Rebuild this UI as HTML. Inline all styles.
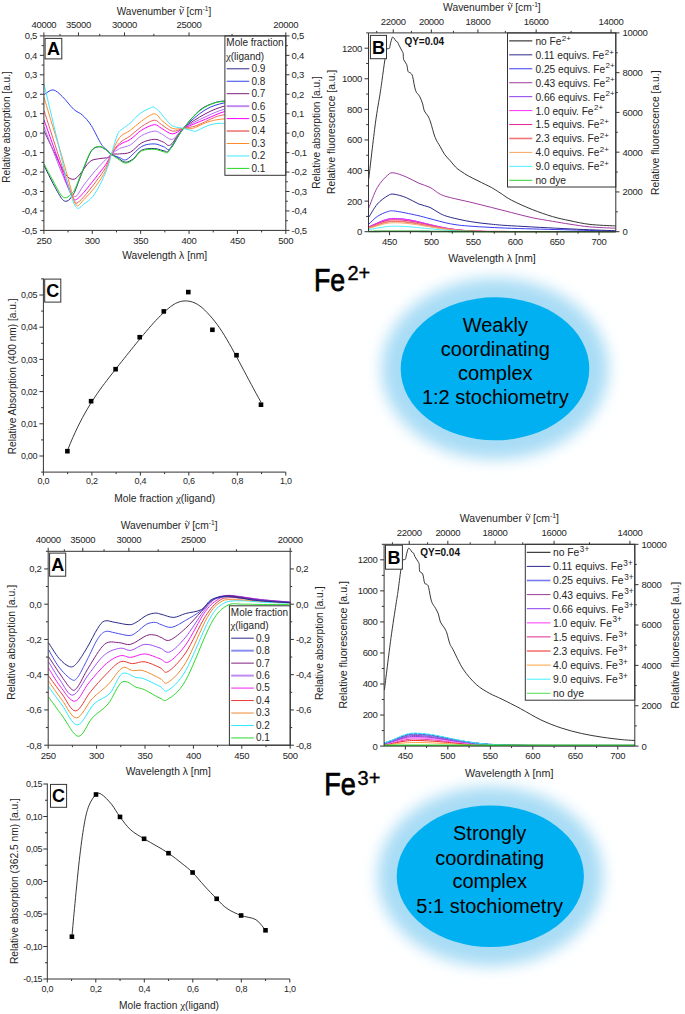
<!DOCTYPE html>
<html><head><meta charset="utf-8"><style>
html,body{margin:0;padding:0;background:#fff;}
svg{display:block;}
</style></head><body>
<svg width="685" height="1014" viewBox="0 0 685 1014" font-family='"Liberation Sans", sans-serif' fill="#262626">
<rect width="685" height="1014" fill="#fff"/>
<clipPath id="cA1"><rect x="43.90" y="35.90" width="241.90" height="194.50"/></clipPath>
<g clip-path="url(#cA1)">
<path d="M44.10,165.40 C44.83,166.92 47.00,171.47 48.50,174.50 C50.00,177.53 51.43,180.43 53.10,183.60 C54.77,186.77 56.93,190.85 58.50,193.50 C60.07,196.15 61.33,198.20 62.50,199.50 C63.67,200.80 64.50,201.17 65.50,201.30 C66.50,201.43 67.50,201.02 68.50,200.30 C69.50,199.58 70.42,198.55 71.50,197.00 C72.58,195.45 73.20,195.17 75.00,191.00 C76.80,186.83 79.62,178.58 82.30,172.00 C84.98,165.42 88.42,155.68 91.10,151.50 C93.78,147.32 96.22,147.38 98.40,146.90 C100.58,146.42 102.03,147.37 104.20,148.60 C106.37,149.83 109.20,152.83 111.40,154.30 C113.60,155.77 115.12,156.08 117.40,157.40 C119.68,158.72 122.43,161.97 125.10,162.20 C127.77,162.43 130.67,160.78 133.40,158.80 C136.13,156.82 138.02,152.02 141.50,150.30 C144.98,148.58 150.35,148.35 154.30,148.50 C158.25,148.65 162.77,150.90 165.20,151.20 C167.63,151.50 165.85,154.10 168.90,150.30 C171.95,146.50 178.32,135.12 183.50,128.40 C188.68,121.68 194.83,114.27 200.00,110.00 C205.17,105.73 210.42,104.30 214.50,102.80 C218.58,101.30 220.25,101.38 224.50,101.00 C228.75,100.62 237.42,100.58 240.00,100.50" fill="none" stroke="#2a2a8a" stroke-width="1.0" stroke-linejoin="round" />
<path d="M44.10,94.60 C45.60,93.82 50.02,89.53 53.10,89.90 C56.18,90.27 59.18,93.58 62.60,96.80 C66.02,100.02 70.32,106.17 73.60,109.20 C76.88,112.23 79.38,112.32 82.30,115.00 C85.22,117.68 87.93,120.43 91.10,125.30 C94.27,130.17 98.62,140.08 101.30,144.20 C103.98,148.32 105.52,148.32 107.20,150.00 C108.88,151.68 109.33,153.03 111.40,154.30 C113.47,155.57 117.02,156.75 119.60,157.60 C122.18,158.45 123.25,161.23 126.90,159.40 C130.55,157.57 136.93,149.18 141.50,146.60 C146.07,144.02 150.65,143.90 154.30,143.90 C157.95,143.90 160.67,145.83 163.40,146.60 C166.13,147.37 167.35,151.53 170.70,148.50 C174.05,145.47 177.78,134.82 183.50,128.40 C189.22,121.98 198.17,114.27 205.00,110.00 C211.83,105.73 218.67,104.13 224.50,102.80 C230.33,101.47 237.42,102.13 240.00,102.00" fill="none" stroke="#3344e6" stroke-width="1.0" stroke-linejoin="round" />
<path d="M44.10,131.10 C45.85,134.75 51.15,145.95 54.60,153.00 C58.05,160.05 61.77,169.02 64.80,173.40 C67.83,177.78 70.37,179.05 72.80,179.30 C75.23,179.55 76.60,177.82 79.40,174.90 C82.20,171.98 86.43,164.48 89.60,161.80 C92.77,159.12 95.23,159.53 98.40,158.80 C101.57,158.07 106.43,158.15 108.60,157.40 C110.77,156.65 109.57,154.88 111.40,154.30 C113.23,153.72 116.42,154.27 119.60,153.90 C122.78,153.53 126.85,153.92 130.50,152.10 C134.15,150.28 137.53,145.13 141.50,143.00 C145.47,140.87 150.65,139.45 154.30,139.30 C157.95,139.15 160.67,141.18 163.40,142.10 C166.13,143.02 167.35,147.08 170.70,144.80 C174.05,142.52 177.78,133.53 183.50,128.40 C189.22,123.27 198.17,117.72 205.00,114.00 C211.83,110.28 218.67,107.60 224.50,106.10 C230.33,104.60 237.42,105.18 240.00,105.00" fill="none" stroke="#7f1f7f" stroke-width="1.0" stroke-linejoin="round" />
<path d="M44.10,127.00 C46.58,133.50 54.68,155.17 59.00,166.00 C63.32,176.83 67.57,187.00 70.00,192.00 C72.43,197.00 72.43,195.42 73.60,196.00 C74.77,196.58 75.30,197.32 77.00,195.50 C78.70,193.68 80.72,189.27 83.80,185.10 C86.88,180.93 91.85,174.75 95.50,170.50 C99.15,166.25 103.05,162.30 105.70,159.60 C108.35,156.90 109.08,156.15 111.40,154.30 C113.72,152.45 116.42,150.08 119.60,148.50 C122.78,146.92 126.85,146.93 130.50,144.80 C134.15,142.67 137.53,137.98 141.50,135.70 C145.47,133.42 150.95,131.40 154.30,131.10 C157.65,130.80 158.57,132.53 161.60,133.90 C164.63,135.27 168.85,140.22 172.50,139.30 C176.15,138.38 178.08,132.12 183.50,128.40 C188.92,124.68 198.17,120.20 205.00,117.00 C211.83,113.80 218.67,110.70 224.50,109.20 C230.33,107.70 237.42,108.20 240.00,108.00" fill="none" stroke="#b070f0" stroke-width="1.0" stroke-linejoin="round" />
<path d="M44.10,120.10 C46.58,127.08 54.68,150.02 59.00,162.00 C63.32,173.98 67.57,185.92 70.00,192.00 C72.43,198.08 72.52,197.25 73.60,198.50 C74.68,199.75 74.80,200.52 76.50,199.50 C78.20,198.48 80.63,196.02 83.80,192.40 C86.97,188.78 91.85,182.42 95.50,177.80 C99.15,173.18 103.05,168.62 105.70,164.70 C108.35,160.78 109.08,157.62 111.40,154.30 C113.72,150.98 116.42,147.30 119.60,144.80 C122.78,142.30 126.85,141.73 130.50,139.30 C134.15,136.87 137.53,132.63 141.50,130.20 C145.47,127.77 150.95,125.00 154.30,124.70 C157.65,124.40 158.57,126.87 161.60,128.40 C164.63,129.93 168.85,133.90 172.50,133.90 C176.15,133.90 178.02,130.83 183.50,128.40 C188.98,125.97 198.57,122.10 205.40,119.30 C212.23,116.50 218.73,113.15 224.50,111.60 C230.27,110.05 237.42,110.27 240.00,110.00" fill="none" stroke="#ff00ff" stroke-width="1.0" stroke-linejoin="round" />
<path d="M44.10,110.70 C46.58,118.42 54.68,143.78 59.00,157.00 C63.32,170.22 67.45,182.67 70.00,190.00 C72.55,197.33 73.13,198.83 74.30,201.00 C75.47,203.17 75.42,203.70 77.00,203.00 C78.58,202.30 80.72,200.27 83.80,196.80 C86.88,193.33 91.85,187.07 95.50,182.20 C99.15,177.33 103.05,172.25 105.70,167.60 C108.35,162.95 109.08,158.40 111.40,154.30 C113.72,150.20 116.42,146.10 119.60,143.00 C122.78,139.90 126.85,138.43 130.50,135.70 C134.15,132.97 137.53,129.18 141.50,126.60 C145.47,124.02 150.95,120.52 154.30,120.20 C157.65,119.88 158.57,122.88 161.60,124.70 C164.63,126.52 168.85,130.48 172.50,131.10 C176.15,131.72 179.55,129.30 183.50,128.40 C187.45,127.50 191.03,127.53 196.20,125.70 C201.37,123.87 209.78,119.23 214.50,117.40 C219.22,115.57 220.25,115.43 224.50,114.70 C228.75,113.97 237.42,113.28 240.00,113.00" fill="none" stroke="#ea5f5f" stroke-width="1.0" stroke-linejoin="round" />
<path d="M44.10,97.50 C45.42,101.92 49.35,115.25 52.00,124.00 C54.65,132.75 57.33,141.00 60.00,150.00 C62.67,159.00 65.92,170.50 68.00,178.00 C70.08,185.50 71.20,190.58 72.50,195.00 C73.80,199.42 74.80,202.75 75.80,204.50 C76.80,206.25 77.17,206.30 78.50,205.50 C79.83,204.70 80.97,202.85 83.80,199.70 C86.63,196.55 91.85,191.47 95.50,186.60 C99.15,181.73 103.05,175.88 105.70,170.50 C108.35,165.12 109.08,159.80 111.40,154.30 C113.72,148.80 116.42,141.52 119.60,137.50 C122.78,133.48 126.85,132.93 130.50,130.20 C134.15,127.47 137.53,123.83 141.50,121.10 C145.47,118.37 150.95,113.95 154.30,113.80 C157.65,113.65 158.57,117.77 161.60,120.20 C164.63,122.63 168.85,127.03 172.50,128.40 C176.15,129.77 180.15,128.40 183.50,128.40 C186.85,128.40 188.95,129.32 192.60,128.40 C196.25,127.48 201.75,124.27 205.40,122.90 C209.05,121.53 211.32,120.87 214.50,120.20 C217.68,119.53 220.25,119.27 224.50,118.90 C228.75,118.53 237.42,118.15 240.00,118.00" fill="none" stroke="#ff8c2a" stroke-width="1.0" stroke-linejoin="round" />
<path d="M44.10,84.40 C45.37,89.75 48.98,105.07 51.70,116.50 C54.42,127.93 57.48,140.83 60.40,153.00 C63.32,165.17 66.52,180.38 69.20,189.50 C71.88,198.62 74.07,205.27 76.50,207.70 C78.93,210.13 81.12,205.92 83.80,204.10 C86.48,202.28 89.68,200.45 92.60,196.80 C95.52,193.15 98.63,187.55 101.30,182.20 C103.97,176.85 106.92,169.35 108.60,164.70 C110.28,160.05 109.87,159.43 111.40,154.30 C112.93,149.17 115.83,138.22 117.80,133.90 C119.77,129.58 121.08,130.23 123.20,128.40 C125.32,126.57 127.75,125.33 130.50,122.90 C133.25,120.47 136.20,116.38 139.70,113.80 C143.20,111.22 148.92,108.37 151.50,107.40 C154.08,106.43 153.83,107.23 155.20,108.00 C156.57,108.77 157.42,109.52 159.70,112.00 C161.98,114.48 166.47,120.47 168.90,122.90 C171.33,125.33 171.87,125.68 174.30,126.60 C176.73,127.52 180.75,127.80 183.50,128.40 C186.25,129.00 188.68,129.75 190.80,130.20 C192.92,130.65 193.77,131.70 196.20,131.10 C198.63,130.50 202.35,127.82 205.40,126.60 C208.45,125.38 211.32,124.35 214.50,123.80 C217.68,123.25 220.25,123.43 224.50,123.30 C228.75,123.17 237.42,123.05 240.00,123.00" fill="none" stroke="#40e8ff" stroke-width="1.0" stroke-linejoin="round" />
<path d="M44.10,164.00 C44.83,165.42 47.00,169.67 48.50,172.50 C50.00,175.33 51.43,177.92 53.10,181.00 C54.77,184.08 57.02,188.50 58.50,191.00 C59.98,193.50 60.92,194.87 62.00,196.00 C63.08,197.13 64.00,197.63 65.00,197.80 C66.00,197.97 66.92,197.72 68.00,197.00 C69.08,196.28 70.33,194.83 71.50,193.50 C72.67,192.17 73.20,192.75 75.00,189.00 C76.80,185.25 79.62,177.33 82.30,171.00 C84.98,164.67 88.42,155.08 91.10,151.00 C93.78,146.92 96.22,146.90 98.40,146.50 C100.58,146.10 102.03,147.30 104.20,148.60 C106.37,149.90 109.20,152.65 111.40,154.30 C113.60,155.95 115.12,157.03 117.40,158.50 C119.68,159.97 122.43,162.93 125.10,163.10 C127.77,163.27 130.67,161.52 133.40,159.50 C136.13,157.48 138.02,152.70 141.50,151.00 C144.98,149.30 150.35,149.10 154.30,149.30 C158.25,149.50 162.77,151.92 165.20,152.20 C167.63,152.48 165.85,154.97 168.90,151.00 C171.95,147.03 178.32,135.15 183.50,128.40 C188.68,121.65 194.83,114.73 200.00,110.50 C205.17,106.27 210.42,104.50 214.50,103.00 C218.58,101.50 220.25,101.83 224.50,101.50 C228.75,101.17 237.42,101.08 240.00,101.00" fill="none" stroke="#22d822" stroke-width="1.0" stroke-linejoin="round" />
</g>
<rect x="224.90" y="35.90" width="60.90" height="139.40" fill="#fff" stroke="#333" stroke-width="1"/>
<text x="226.30" y="45.90" font-size="10" >Mole fraction</text>
<text x="225.90" y="60.00" font-size="10"><tspan font-family="Liberation Serif" font-size="11">χ</tspan>(ligand)</text>
<line x1="226.70" y1="68.80" x2="249.30" y2="68.80" stroke="#2a2a8a" stroke-width="1.0" />
<text x="251.50" y="72.20" font-size="10" >0.9</text>
<line x1="226.70" y1="81.25" x2="249.30" y2="81.25" stroke="#3344e6" stroke-width="1.0" />
<text x="251.50" y="84.65" font-size="10" >0.8</text>
<line x1="226.70" y1="93.70" x2="249.30" y2="93.70" stroke="#7f1f7f" stroke-width="1.0" />
<text x="251.50" y="97.10" font-size="10" >0.7</text>
<line x1="226.70" y1="106.15" x2="249.30" y2="106.15" stroke="#c08cf2" stroke-width="2.0" />
<text x="251.50" y="109.55" font-size="10" >0.6</text>
<line x1="226.70" y1="118.60" x2="249.30" y2="118.60" stroke="#ff00ff" stroke-width="1.0" />
<text x="251.50" y="122.00" font-size="10" >0.5</text>
<line x1="226.70" y1="131.05" x2="249.30" y2="131.05" stroke="#f29090" stroke-width="2.0" />
<text x="251.50" y="134.45" font-size="10" >0.4</text>
<line x1="226.70" y1="143.50" x2="249.30" y2="143.50" stroke="#ff8c2a" stroke-width="1.0" />
<text x="251.50" y="146.90" font-size="10" >0.3</text>
<line x1="226.70" y1="155.95" x2="249.30" y2="155.95" stroke="#40e8ff" stroke-width="1.0" />
<text x="251.50" y="159.35" font-size="10" >0.2</text>
<line x1="226.70" y1="168.40" x2="249.30" y2="168.40" stroke="#22d822" stroke-width="1.0" />
<text x="251.50" y="171.80" font-size="10" >0.1</text>
<line x1="43.90" y1="230.40" x2="285.80" y2="230.40" stroke="#333" stroke-width="1" />
<line x1="43.90" y1="35.90" x2="285.80" y2="35.90" stroke="#333" stroke-width="1" />
<line x1="43.90" y1="35.90" x2="43.90" y2="230.40" stroke="#333" stroke-width="1" />
<line x1="285.80" y1="35.90" x2="285.80" y2="230.40" stroke="#333" stroke-width="1" />
<line x1="43.90" y1="230.40" x2="43.90" y2="233.90" stroke="#333" stroke-width="1" />
<line x1="92.28" y1="230.40" x2="92.28" y2="233.90" stroke="#333" stroke-width="1" />
<line x1="140.66" y1="230.40" x2="140.66" y2="233.90" stroke="#333" stroke-width="1" />
<line x1="189.04" y1="230.40" x2="189.04" y2="233.90" stroke="#333" stroke-width="1" />
<line x1="237.42" y1="230.40" x2="237.42" y2="233.90" stroke="#333" stroke-width="1" />
<line x1="285.80" y1="230.40" x2="285.80" y2="233.90" stroke="#333" stroke-width="1" />
<line x1="68.09" y1="230.40" x2="68.09" y2="232.40" stroke="#333" stroke-width="1" />
<line x1="116.47" y1="230.40" x2="116.47" y2="232.40" stroke="#333" stroke-width="1" />
<line x1="164.85" y1="230.40" x2="164.85" y2="232.40" stroke="#333" stroke-width="1" />
<line x1="213.23" y1="230.40" x2="213.23" y2="232.40" stroke="#333" stroke-width="1" />
<line x1="261.61" y1="230.40" x2="261.61" y2="232.40" stroke="#333" stroke-width="1" />
<text x="43.90" y="243.50" font-size="9.5" text-anchor="middle" letter-spacing="-0.3">250</text>
<text x="92.28" y="243.50" font-size="9.5" text-anchor="middle" letter-spacing="-0.3">300</text>
<text x="140.66" y="243.50" font-size="9.5" text-anchor="middle" letter-spacing="-0.3">350</text>
<text x="189.04" y="243.50" font-size="9.5" text-anchor="middle" letter-spacing="-0.3">400</text>
<text x="237.42" y="243.50" font-size="9.5" text-anchor="middle" letter-spacing="-0.3">450</text>
<text x="285.80" y="243.50" font-size="9.5" text-anchor="middle" letter-spacing="-0.3">500</text>
<line x1="43.90" y1="35.90" x2="43.90" y2="32.40" stroke="#333" stroke-width="1" />
<text x="43.90" y="27.80" font-size="9.5" text-anchor="middle" letter-spacing="-0.3">40000</text>
<line x1="78.46" y1="35.90" x2="78.46" y2="32.40" stroke="#333" stroke-width="1" />
<text x="78.46" y="27.80" font-size="9.5" text-anchor="middle" letter-spacing="-0.3">35000</text>
<line x1="124.53" y1="35.90" x2="124.53" y2="32.40" stroke="#333" stroke-width="1" />
<text x="124.53" y="27.80" font-size="9.5" text-anchor="middle" letter-spacing="-0.3">30000</text>
<line x1="189.04" y1="35.90" x2="189.04" y2="32.40" stroke="#333" stroke-width="1" />
<text x="189.04" y="27.80" font-size="9.5" text-anchor="middle" letter-spacing="-0.3">25000</text>
<line x1="285.80" y1="35.90" x2="285.80" y2="32.40" stroke="#333" stroke-width="1" />
<text x="285.80" y="27.80" font-size="9.5" text-anchor="middle" letter-spacing="-0.3">20000</text>
<line x1="60.03" y1="35.90" x2="60.03" y2="33.90" stroke="#333" stroke-width="1" />
<line x1="99.72" y1="35.90" x2="99.72" y2="33.90" stroke="#333" stroke-width="1" />
<line x1="153.85" y1="35.90" x2="153.85" y2="33.90" stroke="#333" stroke-width="1" />
<line x1="232.04" y1="35.90" x2="232.04" y2="33.90" stroke="#333" stroke-width="1" />
<line x1="39.90" y1="230.40" x2="43.90" y2="230.40" stroke="#333" stroke-width="1" />
<line x1="39.90" y1="210.95" x2="43.90" y2="210.95" stroke="#333" stroke-width="1" />
<line x1="39.90" y1="191.50" x2="43.90" y2="191.50" stroke="#333" stroke-width="1" />
<line x1="39.90" y1="172.05" x2="43.90" y2="172.05" stroke="#333" stroke-width="1" />
<line x1="39.90" y1="152.60" x2="43.90" y2="152.60" stroke="#333" stroke-width="1" />
<line x1="39.90" y1="133.15" x2="43.90" y2="133.15" stroke="#333" stroke-width="1" />
<line x1="39.90" y1="113.70" x2="43.90" y2="113.70" stroke="#333" stroke-width="1" />
<line x1="39.90" y1="94.25" x2="43.90" y2="94.25" stroke="#333" stroke-width="1" />
<line x1="39.90" y1="74.80" x2="43.90" y2="74.80" stroke="#333" stroke-width="1" />
<line x1="39.90" y1="55.35" x2="43.90" y2="55.35" stroke="#333" stroke-width="1" />
<line x1="39.90" y1="35.90" x2="43.90" y2="35.90" stroke="#333" stroke-width="1" />
<line x1="41.60" y1="220.68" x2="43.90" y2="220.68" stroke="#333" stroke-width="1" />
<line x1="41.60" y1="201.22" x2="43.90" y2="201.22" stroke="#333" stroke-width="1" />
<line x1="41.60" y1="181.78" x2="43.90" y2="181.78" stroke="#333" stroke-width="1" />
<line x1="41.60" y1="162.33" x2="43.90" y2="162.33" stroke="#333" stroke-width="1" />
<line x1="41.60" y1="142.88" x2="43.90" y2="142.88" stroke="#333" stroke-width="1" />
<line x1="41.60" y1="123.42" x2="43.90" y2="123.42" stroke="#333" stroke-width="1" />
<line x1="41.60" y1="103.97" x2="43.90" y2="103.97" stroke="#333" stroke-width="1" />
<line x1="41.60" y1="84.53" x2="43.90" y2="84.53" stroke="#333" stroke-width="1" />
<line x1="41.60" y1="65.08" x2="43.90" y2="65.08" stroke="#333" stroke-width="1" />
<line x1="41.60" y1="45.63" x2="43.90" y2="45.63" stroke="#333" stroke-width="1" />
<text x="37.00" y="233.80" font-size="9.5" text-anchor="end" letter-spacing="-0.3">-0,5</text>
<text x="37.00" y="214.35" font-size="9.5" text-anchor="end" letter-spacing="-0.3">-0,4</text>
<text x="37.00" y="194.90" font-size="9.5" text-anchor="end" letter-spacing="-0.3">-0,3</text>
<text x="37.00" y="175.45" font-size="9.5" text-anchor="end" letter-spacing="-0.3">-0,2</text>
<text x="37.00" y="156.00" font-size="9.5" text-anchor="end" letter-spacing="-0.3">-0,1</text>
<text x="37.00" y="136.55" font-size="9.5" text-anchor="end" letter-spacing="-0.3">0,0</text>
<text x="37.00" y="117.10" font-size="9.5" text-anchor="end" letter-spacing="-0.3">0,1</text>
<text x="37.00" y="97.65" font-size="9.5" text-anchor="end" letter-spacing="-0.3">0,2</text>
<text x="37.00" y="78.20" font-size="9.5" text-anchor="end" letter-spacing="-0.3">0,3</text>
<text x="37.00" y="58.75" font-size="9.5" text-anchor="end" letter-spacing="-0.3">0,4</text>
<text x="37.00" y="39.30" font-size="9.5" text-anchor="end" letter-spacing="-0.3">0,5</text>
<line x1="285.80" y1="230.40" x2="289.50" y2="230.40" stroke="#333" stroke-width="1" />
<line x1="285.80" y1="210.95" x2="289.50" y2="210.95" stroke="#333" stroke-width="1" />
<line x1="285.80" y1="191.50" x2="289.50" y2="191.50" stroke="#333" stroke-width="1" />
<line x1="285.80" y1="172.05" x2="289.50" y2="172.05" stroke="#333" stroke-width="1" />
<line x1="285.80" y1="152.60" x2="289.50" y2="152.60" stroke="#333" stroke-width="1" />
<line x1="285.80" y1="133.15" x2="289.50" y2="133.15" stroke="#333" stroke-width="1" />
<line x1="285.80" y1="113.70" x2="289.50" y2="113.70" stroke="#333" stroke-width="1" />
<line x1="285.80" y1="94.25" x2="289.50" y2="94.25" stroke="#333" stroke-width="1" />
<line x1="285.80" y1="74.80" x2="289.50" y2="74.80" stroke="#333" stroke-width="1" />
<line x1="285.80" y1="55.35" x2="289.50" y2="55.35" stroke="#333" stroke-width="1" />
<line x1="285.80" y1="35.90" x2="289.50" y2="35.90" stroke="#333" stroke-width="1" />
<line x1="285.80" y1="220.68" x2="287.80" y2="220.68" stroke="#333" stroke-width="1" />
<line x1="285.80" y1="201.22" x2="287.80" y2="201.22" stroke="#333" stroke-width="1" />
<line x1="285.80" y1="181.78" x2="287.80" y2="181.78" stroke="#333" stroke-width="1" />
<line x1="285.80" y1="162.33" x2="287.80" y2="162.33" stroke="#333" stroke-width="1" />
<line x1="285.80" y1="142.88" x2="287.80" y2="142.88" stroke="#333" stroke-width="1" />
<line x1="285.80" y1="123.42" x2="287.80" y2="123.42" stroke="#333" stroke-width="1" />
<line x1="285.80" y1="103.97" x2="287.80" y2="103.97" stroke="#333" stroke-width="1" />
<line x1="285.80" y1="84.53" x2="287.80" y2="84.53" stroke="#333" stroke-width="1" />
<line x1="285.80" y1="65.08" x2="287.80" y2="65.08" stroke="#333" stroke-width="1" />
<line x1="285.80" y1="45.63" x2="287.80" y2="45.63" stroke="#333" stroke-width="1" />
<text x="291.60" y="233.80" font-size="9.5" letter-spacing="-0.3">-0,5</text>
<text x="291.60" y="214.35" font-size="9.5" letter-spacing="-0.3">-0,4</text>
<text x="291.60" y="194.90" font-size="9.5" letter-spacing="-0.3">-0,3</text>
<text x="291.60" y="175.45" font-size="9.5" letter-spacing="-0.3">-0,2</text>
<text x="291.60" y="156.00" font-size="9.5" letter-spacing="-0.3">-0,1</text>
<text x="291.60" y="136.55" font-size="9.5" letter-spacing="-0.3">0,0</text>
<text x="291.60" y="117.10" font-size="9.5" letter-spacing="-0.3">0,1</text>
<text x="291.60" y="97.65" font-size="9.5" letter-spacing="-0.3">0,2</text>
<text x="291.60" y="78.20" font-size="9.5" letter-spacing="-0.3">0,3</text>
<text x="291.60" y="58.75" font-size="9.5" letter-spacing="-0.3">0,4</text>
<text x="291.60" y="39.30" font-size="9.5" letter-spacing="-0.3">0,5</text>
<text x="116.79" y="14.50" font-size="10.0">Wavenumber </text>
<text x="178.66" y="14.50" font-size="11.50" font-family="Liberation Serif" font-style="italic">ν</text>
<path d="M179.91,7.10 q1.1,-1.4 2.2,0 t2.2,0" fill="none" stroke="#262626" stroke-width="0.75"/>
<text x="183.77" y="14.50" font-size="10.0" style="white-space:pre"> [cm<tspan font-size="6.5" dy="-3.8">-1</tspan><tspan dy="3.8">]</tspan></text>
<text x="164.70" y="258.50" font-size="10.2" text-anchor="middle" textLength="85.0" lengthAdjust="spacingAndGlyphs">Wavelength λ [nm]</text>
<text x="10.30" y="127.00" font-size="10.0" text-anchor="middle" textLength="111.5" lengthAdjust="spacingAndGlyphs" transform="rotate(-90 10.30 127.00)">Relative absorption [a.u.]</text>
<text x="320.10" y="132.40" font-size="10.0" text-anchor="middle" textLength="112.7" lengthAdjust="spacingAndGlyphs" transform="rotate(-90 320.10 132.40)">Relative absorption [a.u.]</text>
<rect x="45.10" y="38.40" width="16.70" height="20.50" fill="#fff" stroke="#333" stroke-width="1"/>
<text x="53.45" y="55.13" font-size="18" text-anchor="middle" font-weight="bold" fill="#000" >A</text>
<clipPath id="cB1"><rect x="368.50" y="32.90" width="247.30" height="199.80"/></clipPath>
<g clip-path="url(#cB1)">
<polyline points="368.50,226.81 370.58,225.97 372.66,225.07 374.73,224.15 376.81,223.20 378.89,222.27 380.97,221.39 383.05,220.57 385.13,219.84 387.20,219.25 389.28,218.80 391.36,218.51 393.44,218.40 395.52,218.42 397.59,218.50 399.67,218.63 401.75,218.80 403.83,219.03 405.91,219.31 407.98,219.63 410.06,219.98 412.14,220.38 414.22,220.80 416.30,221.25 418.38,221.72 420.45,222.21 422.53,222.72 424.61,223.23 426.69,223.74 428.77,224.25 430.84,224.76 432.92,225.26 435.00,225.75 437.08,226.22 439.16,226.68 441.24,227.12 443.31,227.53 445.39,227.93 447.47,228.30 449.55,228.64 451.63,228.96 453.70,229.26 455.78,229.54 457.86,229.79 459.94,230.02 462.02,230.22 464.09,230.41 466.17,230.58 468.25,230.73 470.33,230.86 472.41,230.98 474.49,231.08 476.56,231.18 478.64,231.26 480.72,231.32 482.80,231.38 484.88,231.43 486.95,231.48 489.03,231.52 491.11,231.55 493.19,231.57 495.27,231.60 497.35,231.62 499.42,231.63 501.50,231.64 503.58,231.65 505.66,231.66 507.74,231.67 509.81,231.68 511.89,231.68 513.97,231.69 516.05,231.69 518.13,231.69 520.21,231.69 522.28,231.69 524.36,231.70 526.44,231.70 528.52,231.70 530.60,231.70 532.67,231.70 534.75,231.70 536.83,231.70 538.91,231.70 540.99,231.70 543.06,231.70 545.14,231.70 547.22,231.70 549.30,231.70 551.38,231.70 553.46,231.70 555.53,231.70 557.61,231.70 559.69,231.70 561.77,231.70 563.85,231.70 565.92,231.70 568.00,231.70 570.08,231.70 572.16,231.70 574.24,231.70 576.32,231.70 578.39,231.70 580.47,231.70 582.55,231.70 584.63,231.70 586.71,231.70 588.78,231.70 590.86,231.70 592.94,231.70 595.02,231.70 597.10,231.70 599.17,231.70 601.25,231.70 603.33,231.70 605.41,231.70 607.49,231.70 609.57,231.70 611.64,231.70 613.72,231.70 615.80,231.70" fill="none" stroke="#8a3cf0" stroke-width="1.0" stroke-linejoin="round" />
<polyline points="368.50,226.92 370.58,226.10 372.66,225.22 374.73,224.32 376.81,223.40 378.89,222.49 380.97,221.62 383.05,220.82 385.13,220.11 387.20,219.53 389.28,219.09 391.36,218.81 393.44,218.70 395.52,218.72 397.59,218.79 399.67,218.92 401.75,219.10 403.83,219.32 405.91,219.59 407.98,219.90 410.06,220.25 412.14,220.63 414.22,221.05 416.30,221.49 418.38,221.95 420.45,222.43 422.53,222.92 424.61,223.42 426.69,223.92 428.77,224.42 430.84,224.92 432.92,225.41 435.00,225.88 437.08,226.35 439.16,226.79 441.24,227.22 443.31,227.63 445.39,228.01 447.47,228.37 449.55,228.71 451.63,229.03 453.70,229.32 455.78,229.59 457.86,229.83 459.94,230.05 462.02,230.26 464.09,230.44 466.17,230.60 468.25,230.75 470.33,230.88 472.41,231.00 474.49,231.10 476.56,231.19 478.64,231.27 480.72,231.33 482.80,231.39 484.88,231.44 486.95,231.48 489.03,231.52 491.11,231.55 493.19,231.58 495.27,231.60 497.35,231.62 499.42,231.63 501.50,231.65 503.58,231.66 505.66,231.66 507.74,231.67 509.81,231.68 511.89,231.68 513.97,231.69 516.05,231.69 518.13,231.69 520.21,231.69 522.28,231.69 524.36,231.70 526.44,231.70 528.52,231.70 530.60,231.70 532.67,231.70 534.75,231.70 536.83,231.70 538.91,231.70 540.99,231.70 543.06,231.70 545.14,231.70 547.22,231.70 549.30,231.70 551.38,231.70 553.46,231.70 555.53,231.70 557.61,231.70 559.69,231.70 561.77,231.70 563.85,231.70 565.92,231.70 568.00,231.70 570.08,231.70 572.16,231.70 574.24,231.70 576.32,231.70 578.39,231.70 580.47,231.70 582.55,231.70 584.63,231.70 586.71,231.70 588.78,231.70 590.86,231.70 592.94,231.70 595.02,231.70 597.10,231.70 599.17,231.70 601.25,231.70 603.33,231.70 605.41,231.70 607.49,231.70 609.57,231.70 611.64,231.70 613.72,231.70 615.80,231.70" fill="none" stroke="#ff30ff" stroke-width="1.0" stroke-linejoin="round" />
<polyline points="368.50,227.29 370.58,226.53 372.66,225.72 374.73,224.88 376.81,224.03 378.89,223.20 380.97,222.39 383.05,221.65 385.13,221.00 387.20,220.46 389.28,220.06 391.36,219.80 393.44,219.70 395.52,219.72 397.59,219.79 399.67,219.90 401.75,220.06 403.83,220.27 405.91,220.52 407.98,220.81 410.06,221.13 412.14,221.48 414.22,221.87 416.30,222.27 418.38,222.70 420.45,223.14 422.53,223.59 424.61,224.06 426.69,224.52 428.77,224.98 430.84,225.44 432.92,225.89 435.00,226.33 437.08,226.76 439.16,227.17 441.24,227.56 443.31,227.94 445.39,228.29 447.47,228.63 449.55,228.94 451.63,229.23 453.70,229.50 455.78,229.75 457.86,229.97 459.94,230.18 462.02,230.37 464.09,230.54 466.17,230.69 468.25,230.82 470.33,230.94 472.41,231.05 474.49,231.15 476.56,231.23 478.64,231.30 480.72,231.36 482.80,231.41 484.88,231.46 486.95,231.50 489.03,231.53 491.11,231.56 493.19,231.59 495.27,231.61 497.35,231.62 499.42,231.64 501.50,231.65 503.58,231.66 505.66,231.67 507.74,231.67 509.81,231.68 511.89,231.68 513.97,231.69 516.05,231.69 518.13,231.69 520.21,231.69 522.28,231.70 524.36,231.70 526.44,231.70 528.52,231.70 530.60,231.70 532.67,231.70 534.75,231.70 536.83,231.70 538.91,231.70 540.99,231.70 543.06,231.70 545.14,231.70 547.22,231.70 549.30,231.70 551.38,231.70 553.46,231.70 555.53,231.70 557.61,231.70 559.69,231.70 561.77,231.70 563.85,231.70 565.92,231.70 568.00,231.70 570.08,231.70 572.16,231.70 574.24,231.70 576.32,231.70 578.39,231.70 580.47,231.70 582.55,231.70 584.63,231.70 586.71,231.70 588.78,231.70 590.86,231.70 592.94,231.70 595.02,231.70 597.10,231.70 599.17,231.70 601.25,231.70 603.33,231.70 605.41,231.70 607.49,231.70 609.57,231.70 611.64,231.70 613.72,231.70 615.80,231.70" fill="none" stroke="#e02890" stroke-width="1.0" stroke-linejoin="round" />
<polyline points="368.50,227.84 370.58,227.17 372.66,226.47 374.73,225.74 376.81,224.99 378.89,224.26 380.97,223.56 383.05,222.91 385.13,222.34 387.20,221.87 389.28,221.51 391.36,221.29 393.44,221.20 395.52,221.22 397.59,221.28 399.67,221.38 401.75,221.52 403.83,221.70 405.91,221.92 407.98,222.17 410.06,222.45 412.14,222.76 414.22,223.10 416.30,223.45 418.38,223.82 420.45,224.21 422.53,224.61 424.61,225.01 426.69,225.42 428.77,225.82 430.84,226.22 432.92,226.62 435.00,227.00 437.08,227.38 439.16,227.74 441.24,228.08 443.31,228.41 445.39,228.72 447.47,229.01 449.55,229.29 451.63,229.54 453.70,229.78 455.78,229.99 457.86,230.19 459.94,230.37 462.02,230.54 464.09,230.68 466.17,230.82 468.25,230.93 470.33,231.04 472.41,231.13 474.49,231.21 476.56,231.29 478.64,231.35 480.72,231.40 482.80,231.45 484.88,231.49 486.95,231.53 489.03,231.55 491.11,231.58 493.19,231.60 495.27,231.62 497.35,231.63 499.42,231.65 501.50,231.66 503.58,231.66 505.66,231.67 507.74,231.68 509.81,231.68 511.89,231.69 513.97,231.69 516.05,231.69 518.13,231.69 520.21,231.69 522.28,231.70 524.36,231.70 526.44,231.70 528.52,231.70 530.60,231.70 532.67,231.70 534.75,231.70 536.83,231.70 538.91,231.70 540.99,231.70 543.06,231.70 545.14,231.70 547.22,231.70 549.30,231.70 551.38,231.70 553.46,231.70 555.53,231.70 557.61,231.70 559.69,231.70 561.77,231.70 563.85,231.70 565.92,231.70 568.00,231.70 570.08,231.70 572.16,231.70 574.24,231.70 576.32,231.70 578.39,231.70 580.47,231.70 582.55,231.70 584.63,231.70 586.71,231.70 588.78,231.70 590.86,231.70 592.94,231.70 595.02,231.70 597.10,231.70 599.17,231.70 601.25,231.70 603.33,231.70 605.41,231.70 607.49,231.70 609.57,231.70 611.64,231.70 613.72,231.70 615.80,231.70" fill="none" stroke="#f07878" stroke-width="1.6" stroke-linejoin="round" />
<polyline points="368.50,228.39 370.58,227.82 372.66,227.22 374.73,226.59 376.81,225.95 378.89,225.32 380.97,224.72 383.05,224.17 385.13,223.68 387.20,223.27 389.28,222.97 391.36,222.77 393.44,222.70 395.52,222.71 397.59,222.77 399.67,222.85 401.75,222.97 403.83,223.13 405.91,223.31 407.98,223.53 410.06,223.77 412.14,224.04 414.22,224.32 416.30,224.63 418.38,224.95 420.45,225.28 422.53,225.62 424.61,225.97 426.69,226.31 428.77,226.66 430.84,227.01 432.92,227.34 435.00,227.67 437.08,227.99 439.16,228.30 441.24,228.60 443.31,228.88 445.39,229.15 447.47,229.40 449.55,229.63 451.63,229.85 453.70,230.05 455.78,230.24 457.86,230.41 459.94,230.56 462.02,230.70 464.09,230.83 466.17,230.94 468.25,231.04 470.33,231.13 472.41,231.21 474.49,231.28 476.56,231.35 478.64,231.40 480.72,231.45 482.80,231.49 484.88,231.52 486.95,231.55 489.03,231.58 491.11,231.60 493.19,231.61 495.27,231.63 497.35,231.64 499.42,231.65 501.50,231.66 503.58,231.67 505.66,231.68 507.74,231.68 509.81,231.68 511.89,231.69 513.97,231.69 516.05,231.69 518.13,231.69 520.21,231.70 522.28,231.70 524.36,231.70 526.44,231.70 528.52,231.70 530.60,231.70 532.67,231.70 534.75,231.70 536.83,231.70 538.91,231.70 540.99,231.70 543.06,231.70 545.14,231.70 547.22,231.70 549.30,231.70 551.38,231.70 553.46,231.70 555.53,231.70 557.61,231.70 559.69,231.70 561.77,231.70 563.85,231.70 565.92,231.70 568.00,231.70 570.08,231.70 572.16,231.70 574.24,231.70 576.32,231.70 578.39,231.70 580.47,231.70 582.55,231.70 584.63,231.70 586.71,231.70 588.78,231.70 590.86,231.70 592.94,231.70 595.02,231.70 597.10,231.70 599.17,231.70 601.25,231.70 603.33,231.70 605.41,231.70 607.49,231.70 609.57,231.70 611.64,231.70 613.72,231.70 615.80,231.70" fill="none" stroke="#f5a860" stroke-width="1.0" stroke-linejoin="round" />
<polyline points="368.50,229.68 370.58,229.33 372.66,228.96 374.73,228.58 376.81,228.19 378.89,227.80 380.97,227.43 383.05,227.10 385.13,226.80 387.20,226.55 389.28,226.36 391.36,226.25 393.44,226.20 395.52,226.21 397.59,226.24 399.67,226.29 401.75,226.37 403.83,226.46 405.91,226.58 407.98,226.71 410.06,226.85 412.14,227.02 414.22,227.19 416.30,227.38 418.38,227.57 420.45,227.78 422.53,227.99 424.61,228.20 426.69,228.41 428.77,228.62 430.84,228.83 432.92,229.04 435.00,229.24 437.08,229.44 439.16,229.62 441.24,229.80 443.31,229.98 445.39,230.14 447.47,230.29 449.55,230.44 451.63,230.57 453.70,230.69 455.78,230.81 457.86,230.91 459.94,231.00 462.02,231.09 464.09,231.17 466.17,231.24 468.25,231.30 470.33,231.35 472.41,231.40 474.49,231.45 476.56,231.48 478.64,231.52 480.72,231.54 482.80,231.57 484.88,231.59 486.95,231.61 489.03,231.62 491.11,231.64 493.19,231.65 495.27,231.66 497.35,231.67 499.42,231.67 501.50,231.68 503.58,231.68 505.66,231.68 507.74,231.69 509.81,231.69 511.89,231.69 513.97,231.69 516.05,231.70 518.13,231.70 520.21,231.70 522.28,231.70 524.36,231.70 526.44,231.70 528.52,231.70 530.60,231.70 532.67,231.70 534.75,231.70 536.83,231.70 538.91,231.70 540.99,231.70 543.06,231.70 545.14,231.70 547.22,231.70 549.30,231.70 551.38,231.70 553.46,231.70 555.53,231.70 557.61,231.70 559.69,231.70 561.77,231.70 563.85,231.70 565.92,231.70 568.00,231.70 570.08,231.70 572.16,231.70 574.24,231.70 576.32,231.70 578.39,231.70 580.47,231.70 582.55,231.70 584.63,231.70 586.71,231.70 588.78,231.70 590.86,231.70 592.94,231.70 595.02,231.70 597.10,231.70 599.17,231.70 601.25,231.70 603.33,231.70 605.41,231.70 607.49,231.70 609.57,231.70 611.64,231.70 613.72,231.70 615.80,231.70" fill="none" stroke="#50f0ff" stroke-width="1.0" stroke-linejoin="round" />
<polyline points="368.50,231.52 370.58,231.48 372.66,231.45 374.73,231.42 376.81,231.38 378.89,231.35 380.97,231.31 383.05,231.28 385.13,231.25 387.20,231.23 389.28,231.21 391.36,231.20 393.44,231.20 395.52,231.20 397.59,231.20 399.67,231.21 401.75,231.22 403.83,231.22 405.91,231.23 407.98,231.25 410.06,231.26 412.14,231.27 414.22,231.29 416.30,231.31 418.38,231.32 420.45,231.34 422.53,231.36 424.61,231.38 426.69,231.40 428.77,231.42 430.84,231.44 432.92,231.46 435.00,231.48 437.08,231.49 439.16,231.51 441.24,231.53 443.31,231.54 445.39,231.56 447.47,231.57 449.55,231.59 451.63,231.60 453.70,231.61 455.78,231.62 457.86,231.63 459.94,231.64 462.02,231.64 464.09,231.65 466.17,231.66 468.25,231.66 470.33,231.67 472.41,231.67 474.49,231.68 476.56,231.68 478.64,231.68 480.72,231.69 482.80,231.69 484.88,231.69 486.95,231.69 489.03,231.69 491.11,231.69 493.19,231.70 495.27,231.70 497.35,231.70 499.42,231.70 501.50,231.70 503.58,231.70 505.66,231.70 507.74,231.70 509.81,231.70 511.89,231.70 513.97,231.70 516.05,231.70 518.13,231.70 520.21,231.70 522.28,231.70 524.36,231.70 526.44,231.70 528.52,231.70 530.60,231.70 532.67,231.70 534.75,231.70 536.83,231.70 538.91,231.70 540.99,231.70 543.06,231.70 545.14,231.70 547.22,231.70 549.30,231.70 551.38,231.70 553.46,231.70 555.53,231.70 557.61,231.70 559.69,231.70 561.77,231.70 563.85,231.70 565.92,231.70 568.00,231.70 570.08,231.70 572.16,231.70 574.24,231.70 576.32,231.70 578.39,231.70 580.47,231.70 582.55,231.70 584.63,231.70 586.71,231.70 588.78,231.70 590.86,231.70 592.94,231.70 595.02,231.70 597.10,231.70 599.17,231.70 601.25,231.70 603.33,231.70 605.41,231.70 607.49,231.70 609.57,231.70 611.64,231.70 613.72,231.70 615.80,231.70" fill="none" stroke="#1fa01f" stroke-width="1.6" stroke-linejoin="round" />
<path d="M368.70,224.30 C370.15,222.98 374.22,218.52 377.40,216.40 C380.58,214.28 384.83,212.48 387.80,211.60 C390.77,210.72 390.37,210.48 395.20,211.10 C400.03,211.72 411.00,214.03 416.80,215.30 C422.60,216.57 424.40,217.28 430.00,218.70 C435.60,220.12 443.58,222.55 450.40,223.80 C457.22,225.05 460.68,225.45 470.90,226.20 C481.12,226.95 495.18,227.68 511.70,228.30 C528.22,228.92 552.85,229.42 570.00,229.90 C587.15,230.38 606.93,230.98 614.60,231.20 C622.27,231.42 615.77,231.20 616.00,231.20" fill="none" stroke="#3a3af0" stroke-width="1.0" stroke-linejoin="round" />
<path d="M368.70,217.40 C370.15,215.17 374.22,207.62 377.40,204.00 C380.58,200.38 385.03,197.33 387.80,195.70 C390.57,194.07 390.90,193.87 394.00,194.20 C397.10,194.53 402.27,196.07 406.40,197.70 C410.53,199.33 414.87,202.38 418.80,204.00 C422.73,205.62 426.43,205.80 430.00,207.40 C433.57,209.00 436.80,211.95 440.20,213.60 C443.60,215.25 445.28,215.95 450.40,217.30 C455.52,218.65 464.08,220.55 470.90,221.70 C477.72,222.85 484.50,223.52 491.30,224.20 C498.10,224.88 498.58,225.02 511.70,225.80 C524.82,226.58 552.85,228.08 570.00,228.90 C587.15,229.72 606.93,230.40 614.60,230.70 C622.27,231.00 615.77,230.70 616.00,230.70" fill="none" stroke="#2a2a8a" stroke-width="1.0" stroke-linejoin="round" />
<path d="M368.70,208.10 C370.15,204.65 374.22,192.92 377.40,187.40 C380.58,181.88 385.03,177.42 387.80,175.00 C390.57,172.58 390.90,172.57 394.00,172.90 C397.10,173.23 402.27,175.28 406.40,177.00 C410.53,178.72 414.87,181.47 418.80,183.20 C422.73,184.93 426.43,185.57 430.00,187.40 C433.57,189.23 436.80,192.50 440.20,194.20 C443.60,195.90 445.28,196.25 450.40,197.60 C455.52,198.95 464.08,200.67 470.90,202.30 C477.72,203.93 484.50,205.68 491.30,207.40 C498.10,209.12 504.88,210.88 511.70,212.60 C518.52,214.32 525.38,216.25 532.20,217.70 C539.02,219.15 546.30,220.22 552.60,221.30 C558.90,222.38 563.78,223.27 570.00,224.20 C576.22,225.13 582.47,226.23 589.90,226.90 C597.33,227.57 610.25,227.97 614.60,228.20 C618.95,228.43 615.77,228.28 616.00,228.30" fill="none" stroke="#a03ca0" stroke-width="1.0" stroke-linejoin="round" />
<path d="M368.70,179.10 C369.82,169.78 373.52,137.35 375.40,123.20 C377.28,109.05 378.90,101.33 380.00,94.20 C381.10,87.07 381.18,86.15 382.00,80.40 C382.82,74.65 384.08,64.88 384.90,59.70 C385.72,54.52 386.15,51.20 386.90,49.30 C387.65,47.40 388.82,49.20 389.40,48.30 C389.98,47.40 389.92,45.72 390.40,43.90 C390.88,42.08 391.73,38.40 392.30,37.40 C392.87,36.40 393.22,37.32 393.80,37.90 C394.38,38.48 395.13,40.15 395.80,40.90 C396.47,41.65 397.30,41.75 397.80,42.40 C398.30,43.05 398.07,43.32 398.80,44.80 C399.53,46.28 401.47,49.82 402.20,51.30 C402.93,52.78 402.95,52.30 403.20,53.70 C403.45,55.10 403.12,57.88 403.70,59.70 C404.28,61.52 405.97,62.63 406.70,64.60 C407.43,66.57 407.45,70.10 408.10,71.50 C408.75,72.90 409.85,72.18 410.60,73.00 C411.35,73.82 411.78,73.52 412.60,76.40 C413.42,79.28 414.35,87.00 415.50,90.30 C416.65,93.60 418.35,94.07 419.50,96.20 C420.65,98.33 421.58,100.63 422.40,103.10 C423.22,105.57 423.48,108.87 424.40,111.00 C425.32,113.13 426.88,114.07 427.90,115.90 C428.92,117.73 429.30,118.42 430.50,122.00 C431.70,125.58 433.48,133.30 435.10,137.40 C436.72,141.50 438.58,143.72 440.20,146.60 C441.82,149.48 443.10,152.32 444.80,154.70 C446.50,157.08 448.62,158.85 450.40,160.90 C452.18,162.95 453.78,165.30 455.50,167.00 C457.22,168.70 458.48,169.57 460.70,171.10 C462.92,172.63 466.08,174.67 468.80,176.20 C471.52,177.73 474.27,178.93 477.00,180.30 C479.73,181.67 482.82,183.22 485.20,184.40 C487.58,185.58 488.83,186.00 491.30,187.40 C493.77,188.80 496.60,190.65 500.00,192.80 C503.40,194.95 506.33,197.52 511.70,200.30 C517.07,203.08 525.38,206.78 532.20,209.50 C539.02,212.22 546.30,214.73 552.60,216.60 C558.90,218.47 563.78,219.40 570.00,220.70 C576.22,222.00 582.47,223.53 589.90,224.40 C597.33,225.27 610.25,225.63 614.60,225.90 C618.95,226.17 615.77,225.98 616.00,226.00" fill="none" stroke="#2b2b2b" stroke-width="0.95" stroke-linejoin="round" />
</g>
<rect x="507.50" y="32.90" width="108.30" height="154.10" fill="#fff" stroke="#333" stroke-width="1"/>
<line x1="509.20" y1="40.90" x2="532.30" y2="40.90" stroke="#111111" stroke-width="1.0" />
<text x="535.4" y="44.80" font-size="10.2">no Fe<tspan font-size="8" dx="0.4" dy="-4.2">2+</tspan></text>
<line x1="509.20" y1="54.84" x2="532.30" y2="54.84" stroke="#2a2a8a" stroke-width="1.0" />
<text x="535.4" y="58.74" font-size="10.2">0.11 equivs. Fe<tspan font-size="8" dx="0.4" dy="-4.2">2+</tspan></text>
<line x1="509.20" y1="68.78" x2="532.30" y2="68.78" stroke="#3a3af0" stroke-width="1.0" />
<text x="535.4" y="72.68" font-size="10.2">0.25 equivs. Fe<tspan font-size="8" dx="0.4" dy="-4.2">2+</tspan></text>
<line x1="509.20" y1="82.72" x2="532.30" y2="82.72" stroke="#a03ca0" stroke-width="1.0" />
<text x="535.4" y="86.62" font-size="10.2">0.43 equivs. Fe<tspan font-size="8" dx="0.4" dy="-4.2">2+</tspan></text>
<line x1="509.20" y1="96.66" x2="532.30" y2="96.66" stroke="#8a3cf0" stroke-width="1.0" />
<text x="535.4" y="100.56" font-size="10.2">0.66 equivs. Fe<tspan font-size="8" dx="0.4" dy="-4.2">2+</tspan></text>
<line x1="509.20" y1="110.60" x2="532.30" y2="110.60" stroke="#ff30ff" stroke-width="1.0" />
<text x="535.4" y="114.50" font-size="10.2">1.0 equiv. Fe<tspan font-size="8" dx="0.4" dy="-4.2">2+</tspan></text>
<line x1="509.20" y1="124.54" x2="532.30" y2="124.54" stroke="#e02890" stroke-width="1.0" />
<text x="535.4" y="128.44" font-size="10.2">1.5 equivs. Fe<tspan font-size="8" dx="0.4" dy="-4.2">2+</tspan></text>
<line x1="509.20" y1="138.48" x2="532.30" y2="138.48" stroke="#f07878" stroke-width="1.6" />
<text x="535.4" y="142.38" font-size="10.2">2.3 equivs. Fe<tspan font-size="8" dx="0.4" dy="-4.2">2+</tspan></text>
<line x1="509.20" y1="152.42" x2="532.30" y2="152.42" stroke="#f5a860" stroke-width="1.0" />
<text x="535.4" y="156.32" font-size="10.2">4.0 equivs. Fe<tspan font-size="8" dx="0.4" dy="-4.2">2+</tspan></text>
<line x1="509.20" y1="166.36" x2="532.30" y2="166.36" stroke="#50f0ff" stroke-width="1.0" />
<text x="535.4" y="170.26" font-size="10.2">9.0 equivs. Fe<tspan font-size="8" dx="0.4" dy="-4.2">2+</tspan></text>
<line x1="509.20" y1="180.30" x2="532.30" y2="180.30" stroke="#30d030" stroke-width="1.0" />
<text x="535.40" y="184.20" font-size="10.2" >no dye</text>
<line x1="368.50" y1="231.70" x2="615.80" y2="231.70" stroke="#333" stroke-width="1" />
<line x1="368.50" y1="32.90" x2="615.80" y2="32.90" stroke="#333" stroke-width="1" />
<line x1="368.50" y1="32.90" x2="368.50" y2="231.70" stroke="#333" stroke-width="1" />
<line x1="615.80" y1="32.90" x2="615.80" y2="231.70" stroke="#333" stroke-width="1" />
<line x1="389.46" y1="231.70" x2="389.46" y2="235.20" stroke="#333" stroke-width="1" />
<line x1="431.37" y1="231.70" x2="431.37" y2="235.20" stroke="#333" stroke-width="1" />
<line x1="473.29" y1="231.70" x2="473.29" y2="235.20" stroke="#333" stroke-width="1" />
<line x1="515.20" y1="231.70" x2="515.20" y2="235.20" stroke="#333" stroke-width="1" />
<line x1="557.12" y1="231.70" x2="557.12" y2="235.20" stroke="#333" stroke-width="1" />
<line x1="599.03" y1="231.70" x2="599.03" y2="235.20" stroke="#333" stroke-width="1" />
<line x1="410.42" y1="231.70" x2="410.42" y2="233.70" stroke="#333" stroke-width="1" />
<line x1="452.33" y1="231.70" x2="452.33" y2="233.70" stroke="#333" stroke-width="1" />
<line x1="494.25" y1="231.70" x2="494.25" y2="233.70" stroke="#333" stroke-width="1" />
<line x1="536.16" y1="231.70" x2="536.16" y2="233.70" stroke="#333" stroke-width="1" />
<line x1="578.08" y1="231.70" x2="578.08" y2="233.70" stroke="#333" stroke-width="1" />
<text x="389.46" y="245.20" font-size="9.5" text-anchor="middle" letter-spacing="-0.3">450</text>
<text x="431.37" y="245.20" font-size="9.5" text-anchor="middle" letter-spacing="-0.3">500</text>
<text x="473.29" y="245.20" font-size="9.5" text-anchor="middle" letter-spacing="-0.3">550</text>
<text x="515.20" y="245.20" font-size="9.5" text-anchor="middle" letter-spacing="-0.3">600</text>
<text x="557.12" y="245.20" font-size="9.5" text-anchor="middle" letter-spacing="-0.3">650</text>
<text x="599.03" y="245.20" font-size="9.5" text-anchor="middle" letter-spacing="-0.3">700</text>
<line x1="393.27" y1="32.90" x2="393.27" y2="29.40" stroke="#333" stroke-width="1" />
<text x="393.27" y="24.50" font-size="9.5" text-anchor="middle" letter-spacing="-0.3">22000</text>
<line x1="431.37" y1="32.90" x2="431.37" y2="29.40" stroke="#333" stroke-width="1" />
<text x="431.37" y="24.50" font-size="9.5" text-anchor="middle" letter-spacing="-0.3">20000</text>
<line x1="477.95" y1="32.90" x2="477.95" y2="29.40" stroke="#333" stroke-width="1" />
<text x="477.95" y="24.50" font-size="9.5" text-anchor="middle" letter-spacing="-0.3">18000</text>
<line x1="536.16" y1="32.90" x2="536.16" y2="29.40" stroke="#333" stroke-width="1" />
<text x="536.16" y="24.50" font-size="9.5" text-anchor="middle" letter-spacing="-0.3">16000</text>
<line x1="611.01" y1="32.90" x2="611.01" y2="29.40" stroke="#333" stroke-width="1" />
<text x="611.01" y="24.50" font-size="9.5" text-anchor="middle" letter-spacing="-0.3">14000</text>
<line x1="376.70" y1="32.90" x2="376.70" y2="30.90" stroke="#333" stroke-width="1" />
<line x1="411.41" y1="32.90" x2="411.41" y2="30.90" stroke="#333" stroke-width="1" />
<line x1="453.43" y1="32.90" x2="453.43" y2="30.90" stroke="#333" stroke-width="1" />
<line x1="505.34" y1="32.90" x2="505.34" y2="30.90" stroke="#333" stroke-width="1" />
<line x1="571.09" y1="32.90" x2="571.09" y2="30.90" stroke="#333" stroke-width="1" />
<line x1="364.50" y1="231.70" x2="368.50" y2="231.70" stroke="#333" stroke-width="1" />
<line x1="364.50" y1="201.12" x2="368.50" y2="201.12" stroke="#333" stroke-width="1" />
<line x1="364.50" y1="170.53" x2="368.50" y2="170.53" stroke="#333" stroke-width="1" />
<line x1="364.50" y1="139.95" x2="368.50" y2="139.95" stroke="#333" stroke-width="1" />
<line x1="364.50" y1="109.36" x2="368.50" y2="109.36" stroke="#333" stroke-width="1" />
<line x1="364.50" y1="78.78" x2="368.50" y2="78.78" stroke="#333" stroke-width="1" />
<line x1="364.50" y1="48.19" x2="368.50" y2="48.19" stroke="#333" stroke-width="1" />
<line x1="366.20" y1="216.41" x2="368.50" y2="216.41" stroke="#333" stroke-width="1" />
<line x1="366.20" y1="185.82" x2="368.50" y2="185.82" stroke="#333" stroke-width="1" />
<line x1="366.20" y1="155.24" x2="368.50" y2="155.24" stroke="#333" stroke-width="1" />
<line x1="366.20" y1="124.65" x2="368.50" y2="124.65" stroke="#333" stroke-width="1" />
<line x1="366.20" y1="94.07" x2="368.50" y2="94.07" stroke="#333" stroke-width="1" />
<line x1="366.20" y1="63.48" x2="368.50" y2="63.48" stroke="#333" stroke-width="1" />
<line x1="366.20" y1="32.90" x2="368.50" y2="32.90" stroke="#333" stroke-width="1" />
<text x="362.00" y="235.10" font-size="9.5" text-anchor="end" letter-spacing="-0.3">0</text>
<text x="362.00" y="204.52" font-size="9.5" text-anchor="end" letter-spacing="-0.3">200</text>
<text x="362.00" y="173.93" font-size="9.5" text-anchor="end" letter-spacing="-0.3">400</text>
<text x="362.00" y="143.35" font-size="9.5" text-anchor="end" letter-spacing="-0.3">600</text>
<text x="362.00" y="112.76" font-size="9.5" text-anchor="end" letter-spacing="-0.3">800</text>
<text x="362.00" y="82.18" font-size="9.5" text-anchor="end" letter-spacing="-0.3">1000</text>
<text x="362.00" y="51.59" font-size="9.5" text-anchor="end" letter-spacing="-0.3">1200</text>
<line x1="615.80" y1="231.70" x2="619.50" y2="231.70" stroke="#333" stroke-width="1" />
<line x1="615.80" y1="191.94" x2="619.50" y2="191.94" stroke="#333" stroke-width="1" />
<line x1="615.80" y1="152.18" x2="619.50" y2="152.18" stroke="#333" stroke-width="1" />
<line x1="615.80" y1="112.42" x2="619.50" y2="112.42" stroke="#333" stroke-width="1" />
<line x1="615.80" y1="72.66" x2="619.50" y2="72.66" stroke="#333" stroke-width="1" />
<line x1="615.80" y1="32.90" x2="619.50" y2="32.90" stroke="#333" stroke-width="1" />
<line x1="615.80" y1="211.82" x2="617.80" y2="211.82" stroke="#333" stroke-width="1" />
<line x1="615.80" y1="172.06" x2="617.80" y2="172.06" stroke="#333" stroke-width="1" />
<line x1="615.80" y1="132.30" x2="617.80" y2="132.30" stroke="#333" stroke-width="1" />
<line x1="615.80" y1="92.54" x2="617.80" y2="92.54" stroke="#333" stroke-width="1" />
<line x1="615.80" y1="52.78" x2="617.80" y2="52.78" stroke="#333" stroke-width="1" />
<text x="622.60" y="235.10" font-size="9.5" letter-spacing="-0.3">0</text>
<text x="622.60" y="195.34" font-size="9.5" letter-spacing="-0.3">2000</text>
<text x="622.60" y="155.58" font-size="9.5" letter-spacing="-0.3">4000</text>
<text x="622.60" y="115.82" font-size="9.5" letter-spacing="-0.3">6000</text>
<text x="622.60" y="76.06" font-size="9.5" letter-spacing="-0.3">8000</text>
<text x="622.60" y="36.30" font-size="9.5" letter-spacing="-0.3">10000</text>
<text x="443.04" y="11.20" font-size="10.35">Wavenumber </text>
<text x="507.08" y="11.20" font-size="11.90" font-family="Liberation Serif" font-style="italic">ν</text>
<path d="M508.42,3.52 q1.1,-1.4 2.2,0 t2.2,0" fill="none" stroke="#262626" stroke-width="0.75"/>
<text x="512.36" y="11.20" font-size="10.35" style="white-space:pre"> [cm<tspan font-size="6.7" dy="-3.9">-1</tspan><tspan dy="3.9">]</tspan></text>
<text x="492.00" y="262.10" font-size="10.2" text-anchor="middle" textLength="87.5" lengthAdjust="spacingAndGlyphs">Wavelength λ [nm]</text>
<text x="335.00" y="131.90" font-size="10.2" text-anchor="middle" textLength="124.2" lengthAdjust="spacingAndGlyphs" transform="rotate(-90 335.00 131.90)">Relative fluorescence [a.u.]</text>
<text x="659.50" y="132.70" font-size="10.2" text-anchor="middle" textLength="124.6" lengthAdjust="spacingAndGlyphs" transform="rotate(-90 659.50 132.70)">Relative fluorescence [a.u.]</text>
<rect x="370.40" y="35.40" width="16.10" height="23.30" fill="#fff" stroke="#333" stroke-width="1"/>
<text x="378.45" y="53.53" font-size="18" text-anchor="middle" font-weight="bold" fill="#000" >B</text>
<text x="404.40" y="44.60" font-size="10" font-weight="bold" fill="#111" >QY=0.04</text>
<line x1="43.40" y1="472.10" x2="285.80" y2="472.10" stroke="#333" stroke-width="1" />
<line x1="43.40" y1="278.40" x2="43.40" y2="472.10" stroke="#333" stroke-width="1" />
<line x1="43.40" y1="472.10" x2="43.40" y2="475.60" stroke="#333" stroke-width="1" />
<line x1="91.88" y1="472.10" x2="91.88" y2="475.60" stroke="#333" stroke-width="1" />
<line x1="140.36" y1="472.10" x2="140.36" y2="475.60" stroke="#333" stroke-width="1" />
<line x1="188.84" y1="472.10" x2="188.84" y2="475.60" stroke="#333" stroke-width="1" />
<line x1="237.32" y1="472.10" x2="237.32" y2="475.60" stroke="#333" stroke-width="1" />
<line x1="285.80" y1="472.10" x2="285.80" y2="475.60" stroke="#333" stroke-width="1" />
<line x1="67.64" y1="472.10" x2="67.64" y2="474.10" stroke="#333" stroke-width="1" />
<line x1="116.12" y1="472.10" x2="116.12" y2="474.10" stroke="#333" stroke-width="1" />
<line x1="164.60" y1="472.10" x2="164.60" y2="474.10" stroke="#333" stroke-width="1" />
<line x1="213.08" y1="472.10" x2="213.08" y2="474.10" stroke="#333" stroke-width="1" />
<line x1="261.56" y1="472.10" x2="261.56" y2="474.10" stroke="#333" stroke-width="1" />
<text x="43.40" y="484.40" font-size="9.0" text-anchor="middle" letter-spacing="-0.3">0,0</text>
<text x="91.88" y="484.40" font-size="9.0" text-anchor="middle" letter-spacing="-0.3">0,2</text>
<text x="140.36" y="484.40" font-size="9.0" text-anchor="middle" letter-spacing="-0.3">0,4</text>
<text x="188.84" y="484.40" font-size="9.0" text-anchor="middle" letter-spacing="-0.3">0,6</text>
<text x="237.32" y="484.40" font-size="9.0" text-anchor="middle" letter-spacing="-0.3">0,8</text>
<text x="285.80" y="484.40" font-size="9.0" text-anchor="middle" letter-spacing="-0.3">1,0</text>
<line x1="39.40" y1="456.00" x2="43.40" y2="456.00" stroke="#333" stroke-width="1" />
<line x1="39.40" y1="423.80" x2="43.40" y2="423.80" stroke="#333" stroke-width="1" />
<line x1="39.40" y1="391.60" x2="43.40" y2="391.60" stroke="#333" stroke-width="1" />
<line x1="39.40" y1="359.40" x2="43.40" y2="359.40" stroke="#333" stroke-width="1" />
<line x1="39.40" y1="327.20" x2="43.40" y2="327.20" stroke="#333" stroke-width="1" />
<line x1="39.40" y1="295.00" x2="43.40" y2="295.00" stroke="#333" stroke-width="1" />
<line x1="41.10" y1="472.10" x2="43.40" y2="472.10" stroke="#333" stroke-width="1" />
<line x1="41.10" y1="439.90" x2="43.40" y2="439.90" stroke="#333" stroke-width="1" />
<line x1="41.10" y1="407.70" x2="43.40" y2="407.70" stroke="#333" stroke-width="1" />
<line x1="41.10" y1="375.50" x2="43.40" y2="375.50" stroke="#333" stroke-width="1" />
<line x1="41.10" y1="343.30" x2="43.40" y2="343.30" stroke="#333" stroke-width="1" />
<line x1="41.10" y1="311.10" x2="43.40" y2="311.10" stroke="#333" stroke-width="1" />
<line x1="41.10" y1="278.90" x2="43.40" y2="278.90" stroke="#333" stroke-width="1" />
<text x="37.30" y="459.20" font-size="9.0" text-anchor="end" letter-spacing="-0.3">0,00</text>
<text x="37.30" y="427.00" font-size="9.0" text-anchor="end" letter-spacing="-0.3">0,01</text>
<text x="37.30" y="394.80" font-size="9.0" text-anchor="end" letter-spacing="-0.3">0,02</text>
<text x="37.30" y="362.60" font-size="9.0" text-anchor="end" letter-spacing="-0.3">0,03</text>
<text x="37.30" y="330.40" font-size="9.0" text-anchor="end" letter-spacing="-0.3">0,04</text>
<text x="37.30" y="298.20" font-size="9.0" text-anchor="end" letter-spacing="-0.3">0,05</text>
<polyline points="67.90,449.40 70.34,443.38 72.79,437.67 75.23,432.25 77.68,427.09 80.12,422.19 82.57,417.53 85.01,413.09 87.45,408.85 89.90,404.79 92.34,400.91 94.79,397.18 97.23,393.58 99.68,390.11 102.12,386.74 104.56,383.45 107.01,380.24 109.45,377.07 111.90,373.95 114.34,370.84 116.79,367.74 119.23,364.65 121.67,361.56 124.12,358.49 126.56,355.42 129.01,352.37 131.45,349.33 133.90,346.31 136.34,343.31 138.78,340.32 141.23,337.35 143.67,334.41 146.12,331.50 148.56,328.64 151.01,325.84 153.45,323.10 155.89,320.43 158.34,317.86 160.78,315.38 163.23,313.00 165.67,310.75 168.12,308.62 170.56,306.67 173.01,304.94 175.45,303.48 177.89,302.36 180.34,301.56 182.78,301.08 185.23,300.90 187.67,301.00 190.12,301.38 192.56,302.06 195.00,303.04 197.45,304.33 199.89,305.95 202.34,307.91 204.78,310.18 207.23,312.67 209.67,315.33 212.11,318.14 214.56,321.12 217.00,324.30 219.45,327.71 221.89,331.36 224.34,335.23 226.78,339.29 229.22,343.51 231.67,347.85 234.11,352.29 236.56,356.80 239.00,361.35 241.45,365.94 243.89,370.55 246.33,375.16 248.78,379.77 251.22,384.35 253.67,388.90 256.11,393.40 258.56,397.84 261.00,402.20" fill="none" stroke="#222" stroke-width="0.9" stroke-linejoin="round" />
<rect x="65.10" y="448.90" width="4.6" height="4.6" fill="#000"/>
<rect x="88.80" y="398.90" width="4.6" height="4.6" fill="#000"/>
<rect x="113.30" y="366.90" width="4.6" height="4.6" fill="#000"/>
<rect x="137.40" y="334.90" width="4.6" height="4.6" fill="#000"/>
<rect x="161.50" y="309.10" width="4.6" height="4.6" fill="#000"/>
<rect x="186.00" y="289.80" width="4.6" height="4.6" fill="#000"/>
<rect x="210.10" y="327.50" width="4.6" height="4.6" fill="#000"/>
<rect x="234.20" y="352.90" width="4.6" height="4.6" fill="#000"/>
<rect x="258.70" y="402.40" width="4.6" height="4.6" fill="#000"/>
<text x="164.70" y="502.20" font-size="10.2" text-anchor="middle" textLength="100.8" lengthAdjust="spacingAndGlyphs">Mole fraction <tspan font-family="Liberation Serif" font-size="11">χ</tspan>(ligand)</text>
<text x="16.00" y="376.40" font-size="10.0" text-anchor="middle" textLength="155.7" lengthAdjust="spacingAndGlyphs" transform="rotate(-90 16.00 376.40)">Relative Absorption (400 nm) [a.u.]</text>
<rect x="44.70" y="279.10" width="16.10" height="23.00" fill="#fff" stroke="#333" stroke-width="1"/>
<text x="52.75" y="297.08" font-size="18" text-anchor="middle" font-weight="bold" fill="#000" >C</text>
<text x="314.0" y="290.5" font-size="30.5" fill="#000" stroke="#000" stroke-width="0.75" textLength="31.2" lengthAdjust="spacingAndGlyphs">Fe</text>
<text x="347.4" y="280.1" font-size="20" fill="#000" stroke="#000" stroke-width="0.35">2+</text>
<filter id="g495368" x="-50%" y="-50%" width="200%" height="200%"><feGaussianBlur stdDeviation="7.5"/></filter>
<ellipse cx="495.00" cy="368.80" rx="113.30" ry="90.50" fill="#a8dcf5" filter="url(#g495368)"/>
<ellipse cx="495.00" cy="368.80" rx="94.30" ry="71.50" fill="#00b0f0"/>
<text x="495.30" y="332.00" font-size="20" text-anchor="middle" fill="#000" >Weakly</text>
<text x="495.30" y="355.60" font-size="20" text-anchor="middle" fill="#000" >coordinating</text>
<text x="495.30" y="379.70" font-size="20" text-anchor="middle" fill="#000" >complex</text>
<text x="495.30" y="403.60" font-size="20" text-anchor="middle" fill="#000" >1:2 stochiometry</text>
<clipPath id="cA2"><rect x="48.20" y="551.30" width="242.00" height="193.90"/></clipPath>
<g clip-path="url(#cA2)">
<path d="M48.50,696.90 C50.83,700.10 57.53,709.53 62.50,716.10 C67.47,722.67 73.33,736.00 78.30,736.30 C83.27,736.60 87.33,723.30 92.30,717.90 C97.27,712.50 103.13,709.88 108.10,703.90 C113.07,697.92 117.43,684.78 122.10,682.00 C126.77,679.22 132.30,685.88 136.10,687.20 C139.90,688.52 140.92,688.07 144.90,689.90 C148.88,691.73 156.17,696.65 160.00,698.20 C163.83,699.75 163.63,702.15 167.90,699.20 C172.17,696.25 178.38,693.13 185.60,680.50 C192.82,667.87 204.30,635.88 211.20,623.40 C218.10,610.92 221.73,608.80 227.00,605.60 C232.27,602.40 237.30,604.40 242.80,604.20 C248.30,604.00 251.97,604.37 260.00,604.40 C268.03,604.43 285.83,604.40 291.00,604.40" fill="none" stroke="#30d830" stroke-width="1.0" stroke-linejoin="round" />
<path d="M48.50,686.40 C50.75,689.50 57.18,698.58 62.00,705.00 C66.82,711.42 72.05,725.08 77.40,724.90 C82.75,724.72 88.70,709.15 94.10,703.90 C99.50,698.65 105.13,698.43 109.80,693.40 C114.47,688.37 117.72,676.33 122.10,673.70 C126.48,671.07 132.60,676.80 136.10,677.60 C139.60,678.40 139.12,677.03 143.10,678.50 C147.08,679.97 155.87,684.42 160.00,686.40 C164.13,688.38 163.63,693.02 167.90,690.40 C172.17,687.78 178.70,682.53 185.60,670.70 C192.50,658.87 203.05,630.57 209.30,619.40 C215.55,608.23 218.18,606.82 223.10,603.70 C228.02,600.58 232.65,600.98 238.80,600.70 C244.95,600.42 251.30,601.57 260.00,602.00 C268.70,602.43 285.83,603.08 291.00,603.30" fill="none" stroke="#30e8ff" stroke-width="1.0" stroke-linejoin="round" />
<path d="M48.50,681.10 C50.75,684.25 57.33,693.87 62.00,700.00 C66.67,706.13 71.45,718.13 76.50,717.90 C81.55,717.67 87.03,704.15 92.30,698.60 C97.57,693.05 103.13,689.70 108.10,684.60 C113.07,679.50 118.02,670.33 122.10,668.00 C126.18,665.67 129.10,670.17 132.60,670.60 C136.10,671.03 138.53,669.28 143.10,670.60 C147.67,671.92 155.87,676.52 160.00,678.50 C164.13,680.48 163.63,685.12 167.90,682.50 C172.17,679.88 179.03,673.65 185.60,662.80 C192.17,651.95 201.38,627.58 207.30,617.40 C213.22,607.22 216.50,604.65 221.10,601.70 C225.70,598.75 228.42,599.82 234.90,599.70 C241.38,599.58 250.65,600.45 260.00,601.00 C269.35,601.55 285.83,602.67 291.00,603.00" fill="none" stroke="#f08a30" stroke-width="1.0" stroke-linejoin="round" />
<path d="M48.50,675.80 C50.75,678.83 57.47,688.15 62.00,694.00 C66.53,699.85 70.93,711.30 75.70,710.90 C80.47,710.50 85.50,697.73 90.60,691.60 C95.70,685.47 101.35,679.07 106.30,674.10 C111.25,669.13 115.92,663.55 120.30,661.80 C124.68,660.05 128.50,663.60 132.60,663.60 C136.70,663.60 140.33,661.12 144.90,661.80 C149.47,662.48 156.17,666.07 160.00,667.70 C163.83,669.33 163.63,674.07 167.90,671.60 C172.17,669.13 179.37,662.08 185.60,652.90 C191.83,643.72 199.72,625.20 205.30,616.50 C210.88,607.80 214.82,603.83 219.10,600.70 C223.38,597.57 225.85,597.98 231.00,597.70 C236.15,597.42 243.50,598.45 250.00,599.00 C256.50,599.55 263.17,600.37 270.00,601.00 C276.83,601.63 287.50,602.50 291.00,602.80" fill="none" stroke="#e83838" stroke-width="1.0" stroke-linejoin="round" />
<path d="M48.50,668.00 C50.42,671.00 55.62,680.47 60.00,686.00 C64.38,691.53 70.00,701.72 74.80,701.20 C79.60,700.68 83.55,689.17 88.80,682.90 C94.05,676.63 101.05,668.13 106.30,663.60 C111.55,659.07 116.22,656.73 120.30,655.70 C124.38,654.67 126.70,657.70 130.80,657.40 C134.90,657.10 140.03,653.67 144.90,653.90 C149.77,654.13 156.00,657.48 160.00,658.80 C164.00,660.12 164.63,664.10 168.90,661.80 C173.17,659.50 179.53,653.38 185.60,645.00 C191.67,636.62 199.72,619.22 205.30,611.50 C210.88,603.78 215.15,601.25 219.10,598.70 C223.05,596.15 224.68,596.40 229.00,596.20 C233.32,596.00 239.00,596.87 245.00,597.50 C251.00,598.13 257.33,599.20 265.00,600.00 C272.67,600.80 286.67,601.92 291.00,602.30" fill="none" stroke="#f020f0" stroke-width="1.0" stroke-linejoin="round" />
<path d="M48.50,661.80 C50.42,664.83 55.92,674.45 60.00,680.00 C64.08,685.55 68.20,696.08 73.00,695.10 C77.80,694.12 83.53,680.82 88.80,674.10 C94.07,667.38 99.35,659.12 104.60,654.80 C109.85,650.48 115.93,648.93 120.30,648.20 C124.67,647.47 126.70,651.05 130.80,650.40 C134.90,649.75 140.03,644.70 144.90,644.30 C149.77,643.90 155.83,646.73 160.00,648.00 C164.17,649.27 165.63,653.70 169.90,651.90 C174.17,650.10 180.02,643.93 185.60,637.20 C191.18,630.47 198.47,617.92 203.40,611.50 C208.33,605.08 211.27,601.38 215.20,598.70 C219.13,596.02 222.87,595.77 227.00,595.40 C231.13,595.03 234.50,595.82 240.00,596.50 C245.50,597.18 251.50,598.57 260.00,599.50 C268.50,600.43 285.83,601.67 291.00,602.10" fill="none" stroke="#a050f0" stroke-width="1.0" stroke-linejoin="round" />
<path d="M48.50,656.60 C50.42,659.50 56.20,668.60 60.00,674.00 C63.80,679.40 68.40,686.80 71.30,689.00 C74.20,691.20 74.48,690.85 77.40,687.20 C80.32,683.55 84.27,674.25 88.80,667.10 C93.33,659.95 99.63,648.38 104.60,644.30 C109.57,640.22 114.23,642.60 118.60,642.60 C122.97,642.60 126.13,645.48 130.80,644.30 C135.47,643.12 142.50,637.02 146.60,635.50 C150.70,633.98 153.00,634.88 155.40,635.20 C157.80,635.52 158.58,636.58 161.00,637.40 C163.42,638.22 165.80,641.62 169.90,640.10 C174.00,638.58 180.35,633.07 185.60,628.30 C190.85,623.53 196.80,616.27 201.40,611.50 C206.00,606.73 208.93,602.32 213.20,599.70 C217.47,597.08 222.53,596.25 227.00,595.80 C231.47,595.35 234.50,596.30 240.00,597.00 C245.50,597.70 251.50,599.08 260.00,600.00 C268.50,600.92 285.83,602.08 291.00,602.50" fill="none" stroke="#7f1f7f" stroke-width="1.0" stroke-linejoin="round" />
<path d="M48.50,649.60 C50.25,652.52 55.20,662.15 59.00,667.10 C62.80,672.05 68.23,677.55 71.30,679.30 C74.37,681.05 74.78,680.80 77.40,677.60 C80.02,674.40 83.63,666.52 87.00,660.10 C90.37,653.68 94.53,643.87 97.60,639.10 C100.67,634.33 102.48,632.53 105.40,631.50 C108.32,630.47 111.15,632.23 115.10,632.90 C119.05,633.57 125.60,635.55 129.10,635.50 C132.60,635.45 133.18,634.48 136.10,632.60 C139.02,630.72 143.38,625.90 146.60,624.20 C149.82,622.50 153.00,622.33 155.40,622.40 C157.80,622.47 158.27,623.78 161.00,624.60 C163.73,625.42 167.70,628.00 171.80,627.30 C175.90,626.60 180.67,623.20 185.60,620.40 C190.53,617.60 197.13,613.78 201.40,610.50 C205.67,607.22 207.27,602.98 211.20,600.70 C215.13,598.42 220.20,597.25 225.00,596.80 C229.80,596.35 234.17,597.38 240.00,598.00 C245.83,598.62 251.50,599.72 260.00,600.50 C268.50,601.28 285.83,602.33 291.00,602.70" fill="none" stroke="#4a50e8" stroke-width="1.0" stroke-linejoin="round" />
<path d="M48.50,642.60 C50.25,645.22 55.50,654.30 59.00,658.30 C62.50,662.30 66.58,665.72 69.50,666.60 C72.42,667.48 73.58,666.73 76.50,663.60 C79.42,660.47 83.48,653.65 87.00,647.80 C90.52,641.95 94.67,632.97 97.60,628.50 C100.53,624.03 101.68,622.02 104.60,621.00 C107.52,619.98 111.02,621.78 115.10,622.40 C119.18,623.02 125.60,624.70 129.10,624.70 C132.60,624.70 133.18,623.95 136.10,622.40 C139.02,620.85 143.38,616.95 146.60,615.40 C149.82,613.85 152.83,613.25 155.40,613.10 C157.97,612.95 158.93,613.78 162.00,614.50 C165.07,615.22 169.87,617.57 173.80,617.40 C177.73,617.23 181.00,614.80 185.60,613.50 C190.20,612.20 197.13,611.90 201.40,609.60 C205.67,607.30 207.27,601.93 211.20,599.70 C215.13,597.47 220.40,596.53 225.00,596.20 C229.60,595.87 233.22,596.95 238.80,597.70 C244.38,598.45 249.80,599.87 258.50,600.70 C267.20,601.53 285.58,602.37 291.00,602.70" fill="none" stroke="#2a2a8a" stroke-width="1.0" stroke-linejoin="round" />
</g>
<rect x="229.40" y="605.80" width="60.80" height="139.40" fill="#fff" stroke="#333" stroke-width="1"/>
<text x="230.80" y="615.90" font-size="10" >Mole fraction</text>
<text x="230.40" y="629.40" font-size="10"><tspan font-family="Liberation Serif" font-size="11">χ</tspan>(ligand)</text>
<line x1="231.20" y1="638.20" x2="253.80" y2="638.20" stroke="#2a2a8a" stroke-width="1.0" />
<text x="256.00" y="641.60" font-size="10" >0.9</text>
<line x1="231.20" y1="650.67" x2="253.80" y2="650.67" stroke="#8a8ef0" stroke-width="2.0" />
<text x="256.00" y="654.07" font-size="10" >0.8</text>
<line x1="231.20" y1="663.14" x2="253.80" y2="663.14" stroke="#7f1f7f" stroke-width="1.0" />
<text x="256.00" y="666.54" font-size="10" >0.7</text>
<line x1="231.20" y1="675.61" x2="253.80" y2="675.61" stroke="#c08cf2" stroke-width="2.0" />
<text x="256.00" y="679.01" font-size="10" >0.6</text>
<line x1="231.20" y1="688.08" x2="253.80" y2="688.08" stroke="#f020f0" stroke-width="1.0" />
<text x="256.00" y="691.48" font-size="10" >0.5</text>
<line x1="231.20" y1="700.55" x2="253.80" y2="700.55" stroke="#e83838" stroke-width="1.0" />
<text x="256.00" y="703.95" font-size="10" >0.4</text>
<line x1="231.20" y1="713.02" x2="253.80" y2="713.02" stroke="#f08a30" stroke-width="1.0" />
<text x="256.00" y="716.42" font-size="10" >0.3</text>
<line x1="231.20" y1="725.49" x2="253.80" y2="725.49" stroke="#30e8ff" stroke-width="1.0" />
<text x="256.00" y="728.89" font-size="10" >0.2</text>
<line x1="231.20" y1="737.96" x2="253.80" y2="737.96" stroke="#30d830" stroke-width="1.0" />
<text x="256.00" y="741.36" font-size="10" >0.1</text>
<line x1="48.20" y1="745.20" x2="290.20" y2="745.20" stroke="#333" stroke-width="1" />
<line x1="48.20" y1="551.30" x2="290.20" y2="551.30" stroke="#333" stroke-width="1" />
<line x1="48.20" y1="551.30" x2="48.20" y2="745.20" stroke="#333" stroke-width="1" />
<line x1="290.20" y1="551.30" x2="290.20" y2="745.20" stroke="#333" stroke-width="1" />
<line x1="48.20" y1="745.20" x2="48.20" y2="748.70" stroke="#333" stroke-width="1" />
<line x1="96.60" y1="745.20" x2="96.60" y2="748.70" stroke="#333" stroke-width="1" />
<line x1="145.00" y1="745.20" x2="145.00" y2="748.70" stroke="#333" stroke-width="1" />
<line x1="193.40" y1="745.20" x2="193.40" y2="748.70" stroke="#333" stroke-width="1" />
<line x1="241.80" y1="745.20" x2="241.80" y2="748.70" stroke="#333" stroke-width="1" />
<line x1="290.20" y1="745.20" x2="290.20" y2="748.70" stroke="#333" stroke-width="1" />
<line x1="72.40" y1="745.20" x2="72.40" y2="747.20" stroke="#333" stroke-width="1" />
<line x1="120.80" y1="745.20" x2="120.80" y2="747.20" stroke="#333" stroke-width="1" />
<line x1="169.20" y1="745.20" x2="169.20" y2="747.20" stroke="#333" stroke-width="1" />
<line x1="217.60" y1="745.20" x2="217.60" y2="747.20" stroke="#333" stroke-width="1" />
<line x1="266.00" y1="745.20" x2="266.00" y2="747.20" stroke="#333" stroke-width="1" />
<text x="48.20" y="758.90" font-size="9.5" text-anchor="middle" letter-spacing="-0.3">250</text>
<text x="96.60" y="758.90" font-size="9.5" text-anchor="middle" letter-spacing="-0.3">300</text>
<text x="145.00" y="758.90" font-size="9.5" text-anchor="middle" letter-spacing="-0.3">350</text>
<text x="193.40" y="758.90" font-size="9.5" text-anchor="middle" letter-spacing="-0.3">400</text>
<text x="241.80" y="758.90" font-size="9.5" text-anchor="middle" letter-spacing="-0.3">450</text>
<text x="290.20" y="758.90" font-size="9.5" text-anchor="middle" letter-spacing="-0.3">500</text>
<line x1="48.20" y1="551.30" x2="48.20" y2="547.80" stroke="#333" stroke-width="1" />
<text x="48.20" y="542.90" font-size="9.5" text-anchor="middle" letter-spacing="-0.3">40000</text>
<line x1="82.77" y1="551.30" x2="82.77" y2="547.80" stroke="#333" stroke-width="1" />
<text x="82.77" y="542.90" font-size="9.5" text-anchor="middle" letter-spacing="-0.3">35000</text>
<line x1="128.87" y1="551.30" x2="128.87" y2="547.80" stroke="#333" stroke-width="1" />
<text x="128.87" y="542.90" font-size="9.5" text-anchor="middle" letter-spacing="-0.3">30000</text>
<line x1="193.40" y1="551.30" x2="193.40" y2="547.80" stroke="#333" stroke-width="1" />
<text x="193.40" y="542.90" font-size="9.5" text-anchor="middle" letter-spacing="-0.3">25000</text>
<line x1="290.20" y1="551.30" x2="290.20" y2="547.80" stroke="#333" stroke-width="1" />
<text x="290.20" y="542.90" font-size="9.5" text-anchor="middle" letter-spacing="-0.3">20000</text>
<line x1="64.33" y1="551.30" x2="64.33" y2="549.30" stroke="#333" stroke-width="1" />
<line x1="104.05" y1="551.30" x2="104.05" y2="549.30" stroke="#333" stroke-width="1" />
<line x1="158.20" y1="551.30" x2="158.20" y2="549.30" stroke="#333" stroke-width="1" />
<line x1="236.42" y1="551.30" x2="236.42" y2="549.30" stroke="#333" stroke-width="1" />
<line x1="44.20" y1="745.20" x2="48.20" y2="745.20" stroke="#333" stroke-width="1" />
<line x1="44.20" y1="709.95" x2="48.20" y2="709.95" stroke="#333" stroke-width="1" />
<line x1="44.20" y1="674.69" x2="48.20" y2="674.69" stroke="#333" stroke-width="1" />
<line x1="44.20" y1="639.44" x2="48.20" y2="639.44" stroke="#333" stroke-width="1" />
<line x1="44.20" y1="604.18" x2="48.20" y2="604.18" stroke="#333" stroke-width="1" />
<line x1="44.20" y1="568.93" x2="48.20" y2="568.93" stroke="#333" stroke-width="1" />
<line x1="45.90" y1="727.57" x2="48.20" y2="727.57" stroke="#333" stroke-width="1" />
<line x1="45.90" y1="692.32" x2="48.20" y2="692.32" stroke="#333" stroke-width="1" />
<line x1="45.90" y1="657.06" x2="48.20" y2="657.06" stroke="#333" stroke-width="1" />
<line x1="45.90" y1="621.81" x2="48.20" y2="621.81" stroke="#333" stroke-width="1" />
<line x1="45.90" y1="586.55" x2="48.20" y2="586.55" stroke="#333" stroke-width="1" />
<line x1="45.90" y1="551.30" x2="48.20" y2="551.30" stroke="#333" stroke-width="1" />
<text x="41.50" y="748.60" font-size="9.5" text-anchor="end" letter-spacing="-0.3">-0,8</text>
<text x="41.50" y="713.35" font-size="9.5" text-anchor="end" letter-spacing="-0.3">-0,6</text>
<text x="41.50" y="678.09" font-size="9.5" text-anchor="end" letter-spacing="-0.3">-0,4</text>
<text x="41.50" y="642.84" font-size="9.5" text-anchor="end" letter-spacing="-0.3">-0,2</text>
<text x="41.50" y="607.58" font-size="9.5" text-anchor="end" letter-spacing="-0.3">0,0</text>
<text x="41.50" y="572.33" font-size="9.5" text-anchor="end" letter-spacing="-0.3">0,2</text>
<line x1="290.20" y1="745.20" x2="293.90" y2="745.20" stroke="#333" stroke-width="1" />
<line x1="290.20" y1="709.95" x2="293.90" y2="709.95" stroke="#333" stroke-width="1" />
<line x1="290.20" y1="674.69" x2="293.90" y2="674.69" stroke="#333" stroke-width="1" />
<line x1="290.20" y1="639.44" x2="293.90" y2="639.44" stroke="#333" stroke-width="1" />
<line x1="290.20" y1="604.18" x2="293.90" y2="604.18" stroke="#333" stroke-width="1" />
<line x1="290.20" y1="568.93" x2="293.90" y2="568.93" stroke="#333" stroke-width="1" />
<line x1="290.20" y1="727.57" x2="292.20" y2="727.57" stroke="#333" stroke-width="1" />
<line x1="290.20" y1="692.32" x2="292.20" y2="692.32" stroke="#333" stroke-width="1" />
<line x1="290.20" y1="657.06" x2="292.20" y2="657.06" stroke="#333" stroke-width="1" />
<line x1="290.20" y1="621.81" x2="292.20" y2="621.81" stroke="#333" stroke-width="1" />
<line x1="290.20" y1="586.55" x2="292.20" y2="586.55" stroke="#333" stroke-width="1" />
<line x1="290.20" y1="551.30" x2="292.20" y2="551.30" stroke="#333" stroke-width="1" />
<text x="296.00" y="748.60" font-size="9.5" letter-spacing="-0.3">-0,8</text>
<text x="296.00" y="713.35" font-size="9.5" letter-spacing="-0.3">-0,6</text>
<text x="296.00" y="678.09" font-size="9.5" letter-spacing="-0.3">-0,4</text>
<text x="296.00" y="642.84" font-size="9.5" letter-spacing="-0.3">-0,2</text>
<text x="296.00" y="607.58" font-size="9.5" letter-spacing="-0.3">0,0</text>
<text x="296.00" y="572.33" font-size="9.5" letter-spacing="-0.3">0,2</text>
<text x="120.71" y="529.30" font-size="10.25">Wavenumber </text>
<text x="184.13" y="529.30" font-size="11.79" font-family="Liberation Serif" font-style="italic">ν</text>
<path d="M185.44,521.70 q1.1,-1.4 2.2,0 t2.2,0" fill="none" stroke="#262626" stroke-width="0.75"/>
<text x="189.36" y="529.30" font-size="10.25" style="white-space:pre"> [cm<tspan font-size="6.7" dy="-3.9">-1</tspan><tspan dy="3.9">]</tspan></text>
<text x="168.30" y="775.20" font-size="10.2" text-anchor="middle" textLength="85.1" lengthAdjust="spacingAndGlyphs">Wavelength λ [nm]</text>
<text x="15.10" y="642.40" font-size="10.2" text-anchor="middle" textLength="114.9" lengthAdjust="spacingAndGlyphs" transform="rotate(-90 15.10 642.40)">Relative absorption [a.u.]</text>
<text x="322.90" y="643.30" font-size="10.2" text-anchor="middle" textLength="113.6" lengthAdjust="spacingAndGlyphs" transform="rotate(-90 322.90 643.30)">Relative absorption [a.u.]</text>
<rect x="49.60" y="553.10" width="16.10" height="23.10" fill="#fff" stroke="#333" stroke-width="1"/>
<text x="57.65" y="571.13" font-size="18" text-anchor="middle" font-weight="bold" fill="#000" >A</text>
<clipPath id="cB2"><rect x="384.10" y="544.30" width="250.70" height="202.80"/></clipPath>
<g clip-path="url(#cB2)">
<polyline points="384.10,744.87 386.21,744.72 388.31,744.55 390.42,744.36 392.53,744.16 394.63,743.94 396.74,743.71 398.85,743.48 400.95,743.26 403.06,743.06 405.17,742.87 407.27,742.72 409.38,742.60 411.49,742.53 413.59,742.50 415.70,742.50 417.81,742.52 419.91,742.55 422.02,742.58 424.13,742.63 426.23,742.68 428.34,742.75 430.45,742.82 432.55,742.90 434.66,742.99 436.77,743.08 438.87,743.18 440.98,743.28 443.09,743.39 445.19,743.50 447.30,743.61 449.41,743.72 451.52,743.83 453.62,743.94 455.73,744.04 457.84,744.15 459.94,744.25 462.05,744.35 464.16,744.44 466.26,744.53 468.37,744.62 470.48,744.70 472.58,744.77 474.69,744.85 476.80,744.91 478.90,744.97 481.01,745.03 483.12,745.08 485.22,745.13 487.33,745.18 489.44,745.21 491.54,745.25 493.65,745.28 495.76,745.31 497.86,745.34 499.97,745.36 502.08,745.38 504.18,745.40 506.29,745.41 508.40,745.42 510.50,745.44 512.61,745.45 514.72,745.45 516.82,745.46 518.93,745.47 521.04,745.47 523.14,745.48 525.25,745.48 527.36,745.49 529.46,745.49 531.57,745.49 533.68,745.49 535.78,745.49 537.89,745.49 540.00,745.50 542.10,745.50 544.21,745.50 546.32,745.50 548.42,745.50 550.53,745.50 552.64,745.50 554.74,745.50 556.85,745.50 558.96,745.50 561.06,745.50 563.17,745.50 565.28,745.50 567.38,745.50 569.49,745.50 571.60,745.50 573.71,745.50 575.81,745.50 577.92,745.50 580.03,745.50 582.13,745.50 584.24,745.50 586.35,745.50 588.45,745.50 590.56,745.50 592.67,745.50 594.77,745.50 596.88,745.50 598.99,745.50 601.09,745.50 603.20,745.50 605.31,745.50 607.41,745.50 609.52,745.50 611.63,745.50 613.73,745.50 615.84,745.50 617.95,745.50 620.05,745.50 622.16,745.50 624.27,745.50 626.37,745.50 628.48,745.50 630.59,745.50 632.69,745.50 634.80,745.50" fill="none" stroke="#ffa040" stroke-width="1.0" stroke-linejoin="round" />
<polyline points="384.10,744.45 386.21,744.20 388.31,743.92 390.42,743.60 392.53,743.26 394.63,742.89 396.74,742.52 398.85,742.14 400.95,741.77 403.06,741.43 405.17,741.12 407.27,740.87 409.38,740.67 411.49,740.55 413.59,740.50 415.70,740.51 417.81,740.53 419.91,740.58 422.02,740.64 424.13,740.71 426.23,740.81 428.34,740.91 430.45,741.04 432.55,741.17 434.66,741.32 436.77,741.47 438.87,741.64 440.98,741.81 443.09,741.98 445.19,742.16 447.30,742.35 449.41,742.53 451.52,742.71 453.62,742.89 455.73,743.07 457.84,743.25 459.94,743.41 462.05,743.58 464.16,743.74 466.26,743.89 468.37,744.03 470.48,744.16 472.58,744.29 474.69,744.41 476.80,744.52 478.90,744.62 481.01,744.72 483.12,744.81 485.22,744.89 487.33,744.96 489.44,745.02 491.54,745.08 493.65,745.14 495.76,745.18 497.86,745.23 499.97,745.26 502.08,745.30 504.18,745.33 506.29,745.35 508.40,745.37 510.50,745.39 512.61,745.41 514.72,745.42 516.82,745.44 518.93,745.45 521.04,745.46 523.14,745.46 525.25,745.47 527.36,745.48 529.46,745.48 531.57,745.48 533.68,745.49 535.78,745.49 537.89,745.49 540.00,745.49 542.10,745.49 544.21,745.50 546.32,745.50 548.42,745.50 550.53,745.50 552.64,745.50 554.74,745.50 556.85,745.50 558.96,745.50 561.06,745.50 563.17,745.50 565.28,745.50 567.38,745.50 569.49,745.50 571.60,745.50 573.71,745.50 575.81,745.50 577.92,745.50 580.03,745.50 582.13,745.50 584.24,745.50 586.35,745.50 588.45,745.50 590.56,745.50 592.67,745.50 594.77,745.50 596.88,745.50 598.99,745.50 601.09,745.50 603.20,745.50 605.31,745.50 607.41,745.50 609.52,745.50 611.63,745.50 613.73,745.50 615.84,745.50 617.95,745.50 620.05,745.50 622.16,745.50 624.27,745.50 626.37,745.50 628.48,745.50 630.59,745.50 632.69,745.50 634.80,745.50" fill="none" stroke="#f02020" stroke-width="1.0" stroke-linejoin="round" />
<polyline points="384.10,744.14 386.21,743.81 388.31,743.44 390.42,743.03 392.53,742.59 394.63,742.11 396.74,741.62 398.85,741.13 400.95,740.65 403.06,740.21 405.17,739.81 407.27,739.48 409.38,739.22 411.49,739.06 413.59,739.00 415.70,739.01 417.81,739.04 419.91,739.10 422.02,739.18 424.13,739.28 426.23,739.40 428.34,739.54 430.45,739.70 432.55,739.87 434.66,740.06 436.77,740.26 438.87,740.48 440.98,740.70 443.09,740.93 445.19,741.16 447.30,741.40 449.41,741.64 451.52,741.88 453.62,742.11 455.73,742.34 457.84,742.57 459.94,742.79 462.05,743.00 464.16,743.21 466.26,743.40 468.37,743.59 470.48,743.76 472.58,743.93 474.69,744.08 476.80,744.23 478.90,744.36 481.01,744.48 483.12,744.60 485.22,744.70 487.33,744.80 489.44,744.88 491.54,744.96 493.65,745.03 495.76,745.09 497.86,745.14 499.97,745.19 502.08,745.24 504.18,745.27 506.29,745.31 508.40,745.34 510.50,745.36 512.61,745.38 514.72,745.40 516.82,745.42 518.93,745.43 521.04,745.44 523.14,745.45 525.25,745.46 527.36,745.47 529.46,745.47 531.57,745.48 533.68,745.48 535.78,745.49 537.89,745.49 540.00,745.49 542.10,745.49 544.21,745.49 546.32,745.50 548.42,745.50 550.53,745.50 552.64,745.50 554.74,745.50 556.85,745.50 558.96,745.50 561.06,745.50 563.17,745.50 565.28,745.50 567.38,745.50 569.49,745.50 571.60,745.50 573.71,745.50 575.81,745.50 577.92,745.50 580.03,745.50 582.13,745.50 584.24,745.50 586.35,745.50 588.45,745.50 590.56,745.50 592.67,745.50 594.77,745.50 596.88,745.50 598.99,745.50 601.09,745.50 603.20,745.50 605.31,745.50 607.41,745.50 609.52,745.50 611.63,745.50 613.73,745.50 615.84,745.50 617.95,745.50 620.05,745.50 622.16,745.50 624.27,745.50 626.37,745.50 628.48,745.50 630.59,745.50 632.69,745.50 634.80,745.50" fill="none" stroke="#e02890" stroke-width="1.0" stroke-linejoin="round" />
<polyline points="384.10,743.87 386.21,743.48 388.31,743.03 390.42,742.54 392.53,742.00 394.63,741.44 396.74,740.85 398.85,740.26 400.95,739.68 403.06,739.15 405.17,738.67 407.27,738.27 409.38,737.97 411.49,737.78 413.59,737.70 415.70,737.71 417.81,737.75 419.91,737.82 422.02,737.91 424.13,738.03 426.23,738.18 428.34,738.35 430.45,738.54 432.55,738.75 434.66,738.97 436.77,739.22 438.87,739.47 440.98,739.74 443.09,740.01 445.19,740.30 447.30,740.58 449.41,740.87 451.52,741.15 453.62,741.43 455.73,741.71 457.84,741.98 459.94,742.25 462.05,742.50 464.16,742.75 466.26,742.98 468.37,743.21 470.48,743.42 472.58,743.61 474.69,743.80 476.80,743.97 478.90,744.13 481.01,744.28 483.12,744.42 485.22,744.54 487.33,744.66 489.44,744.76 491.54,744.85 493.65,744.93 495.76,745.01 497.86,745.07 499.97,745.13 502.08,745.18 504.18,745.23 506.29,745.27 508.40,745.30 510.50,745.33 512.61,745.36 514.72,745.38 516.82,745.40 518.93,745.42 521.04,745.43 523.14,745.44 525.25,745.45 527.36,745.46 529.46,745.47 531.57,745.47 533.68,745.48 535.78,745.48 537.89,745.49 540.00,745.49 542.10,745.49 544.21,745.49 546.32,745.49 548.42,745.50 550.53,745.50 552.64,745.50 554.74,745.50 556.85,745.50 558.96,745.50 561.06,745.50 563.17,745.50 565.28,745.50 567.38,745.50 569.49,745.50 571.60,745.50 573.71,745.50 575.81,745.50 577.92,745.50 580.03,745.50 582.13,745.50 584.24,745.50 586.35,745.50 588.45,745.50 590.56,745.50 592.67,745.50 594.77,745.50 596.88,745.50 598.99,745.50 601.09,745.50 603.20,745.50 605.31,745.50 607.41,745.50 609.52,745.50 611.63,745.50 613.73,745.50 615.84,745.50 617.95,745.50 620.05,745.50 622.16,745.50 624.27,745.50 626.37,745.50 628.48,745.50 630.59,745.50 632.69,745.50 634.80,745.50" fill="none" stroke="#ff80ff" stroke-width="1.6" stroke-linejoin="round" />
<polyline points="384.10,743.61 386.21,743.16 388.31,742.65 390.42,742.08 392.53,741.47 394.63,740.81 396.74,740.13 398.85,739.45 400.95,738.79 403.06,738.17 405.17,737.62 407.27,737.16 409.38,736.81 411.49,736.59 413.59,736.50 415.70,736.51 417.81,736.56 419.91,736.64 422.02,736.74 424.13,736.88 426.23,737.05 428.34,737.25 430.45,737.47 432.55,737.71 434.66,737.97 436.77,738.25 438.87,738.55 440.98,738.85 443.09,739.17 445.19,739.49 447.30,739.82 449.41,740.15 451.52,740.48 453.62,740.81 455.73,741.13 457.84,741.44 459.94,741.75 462.05,742.04 464.16,742.32 466.26,742.60 468.37,742.85 470.48,743.10 472.58,743.32 474.69,743.54 476.80,743.74 478.90,743.92 481.01,744.09 483.12,744.25 485.22,744.39 487.33,744.53 489.44,744.64 491.54,744.75 493.65,744.85 495.76,744.93 497.86,745.01 499.97,745.08 502.08,745.13 504.18,745.19 506.29,745.23 508.40,745.27 510.50,745.31 512.61,745.34 514.72,745.36 516.82,745.39 518.93,745.40 521.04,745.42 523.14,745.43 525.25,745.45 527.36,745.46 529.46,745.46 531.57,745.47 533.68,745.48 535.78,745.48 537.89,745.48 540.00,745.49 542.10,745.49 544.21,745.49 546.32,745.49 548.42,745.49 550.53,745.50 552.64,745.50 554.74,745.50 556.85,745.50 558.96,745.50 561.06,745.50 563.17,745.50 565.28,745.50 567.38,745.50 569.49,745.50 571.60,745.50 573.71,745.50 575.81,745.50 577.92,745.50 580.03,745.50 582.13,745.50 584.24,745.50 586.35,745.50 588.45,745.50 590.56,745.50 592.67,745.50 594.77,745.50 596.88,745.50 598.99,745.50 601.09,745.50 603.20,745.50 605.31,745.50 607.41,745.50 609.52,745.50 611.63,745.50 613.73,745.50 615.84,745.50 617.95,745.50 620.05,745.50 622.16,745.50 624.27,745.50 626.37,745.50 628.48,745.50 630.59,745.50 632.69,745.50 634.80,745.50" fill="none" stroke="#8a3cf0" stroke-width="1.0" stroke-linejoin="round" />
<polyline points="384.10,743.40 386.21,742.91 388.31,742.34 390.42,741.71 392.53,741.02 394.63,740.29 396.74,739.53 398.85,738.78 400.95,738.04 403.06,737.36 405.17,736.75 407.27,736.23 409.38,735.85 411.49,735.60 413.59,735.50 415.70,735.51 417.81,735.56 419.91,735.65 422.02,735.77 424.13,735.93 426.23,736.11 428.34,736.33 430.45,736.57 432.55,736.84 434.66,737.13 436.77,737.45 438.87,737.77 440.98,738.11 443.09,738.47 445.19,738.83 447.30,739.19 449.41,739.56 451.52,739.92 453.62,740.29 455.73,740.64 457.84,740.99 459.94,741.33 462.05,741.66 464.16,741.97 466.26,742.27 468.37,742.56 470.48,742.83 472.58,743.08 474.69,743.32 476.80,743.54 478.90,743.75 481.01,743.94 483.12,744.11 485.22,744.27 487.33,744.42 489.44,744.55 491.54,744.67 493.65,744.77 495.76,744.87 497.86,744.95 499.97,745.03 502.08,745.09 504.18,745.15 506.29,745.20 508.40,745.25 510.50,745.29 512.61,745.32 514.72,745.35 516.82,745.37 518.93,745.39 521.04,745.41 523.14,745.43 525.25,745.44 527.36,745.45 529.46,745.46 531.57,745.47 533.68,745.47 535.78,745.48 537.89,745.48 540.00,745.49 542.10,745.49 544.21,745.49 546.32,745.49 548.42,745.49 550.53,745.50 552.64,745.50 554.74,745.50 556.85,745.50 558.96,745.50 561.06,745.50 563.17,745.50 565.28,745.50 567.38,745.50 569.49,745.50 571.60,745.50 573.71,745.50 575.81,745.50 577.92,745.50 580.03,745.50 582.13,745.50 584.24,745.50 586.35,745.50 588.45,745.50 590.56,745.50 592.67,745.50 594.77,745.50 596.88,745.50 598.99,745.50 601.09,745.50 603.20,745.50 605.31,745.50 607.41,745.50 609.52,745.50 611.63,745.50 613.73,745.50 615.84,745.50 617.95,745.50 620.05,745.50 622.16,745.50 624.27,745.50 626.37,745.50 628.48,745.50 630.59,745.50 632.69,745.50 634.80,745.50" fill="none" stroke="#9a3a9a" stroke-width="1.0" stroke-linejoin="round" />
<polyline points="384.10,743.19 386.21,742.65 388.31,742.02 390.42,741.33 392.53,740.57 394.63,739.77 396.74,738.94 398.85,738.11 400.95,737.30 403.06,736.54 405.17,735.87 407.27,735.31 409.38,734.88 411.49,734.61 413.59,734.50 415.70,734.52 417.81,734.57 419.91,734.67 422.02,734.80 424.13,734.97 426.23,735.17 428.34,735.41 430.45,735.68 432.55,735.98 434.66,736.30 436.77,736.64 438.87,737.00 440.98,737.38 443.09,737.76 445.19,738.16 447.30,738.56 449.41,738.96 451.52,739.37 453.62,739.76 455.73,740.16 457.84,740.54 459.94,740.91 462.05,741.27 464.16,741.62 466.26,741.95 468.37,742.26 470.48,742.56 472.58,742.84 474.69,743.10 476.80,743.35 478.90,743.57 481.01,743.78 483.12,743.97 485.22,744.15 487.33,744.31 489.44,744.45 491.54,744.58 493.65,744.70 495.76,744.80 497.86,744.90 499.97,744.98 502.08,745.05 504.18,745.12 506.29,745.17 508.40,745.22 510.50,745.26 512.61,745.30 514.72,745.33 516.82,745.36 518.93,745.38 521.04,745.40 523.14,745.42 525.25,745.43 527.36,745.45 529.46,745.46 531.57,745.46 533.68,745.47 535.78,745.48 537.89,745.48 540.00,745.48 542.10,745.49 544.21,745.49 546.32,745.49 548.42,745.49 550.53,745.49 552.64,745.50 554.74,745.50 556.85,745.50 558.96,745.50 561.06,745.50 563.17,745.50 565.28,745.50 567.38,745.50 569.49,745.50 571.60,745.50 573.71,745.50 575.81,745.50 577.92,745.50 580.03,745.50 582.13,745.50 584.24,745.50 586.35,745.50 588.45,745.50 590.56,745.50 592.67,745.50 594.77,745.50 596.88,745.50 598.99,745.50 601.09,745.50 603.20,745.50 605.31,745.50 607.41,745.50 609.52,745.50 611.63,745.50 613.73,745.50 615.84,745.50 617.95,745.50 620.05,745.50 622.16,745.50 624.27,745.50 626.37,745.50 628.48,745.50 630.59,745.50 632.69,745.50 634.80,745.50" fill="none" stroke="#7878f5" stroke-width="1.6" stroke-linejoin="round" />
<polyline points="384.10,742.98 386.21,742.39 388.31,741.70 390.42,740.95 392.53,740.12 394.63,739.25 396.74,738.34 398.85,737.43 400.95,736.55 403.06,735.73 405.17,734.99 407.27,734.38 409.38,733.91 411.49,733.62 413.59,733.50 415.70,733.52 417.81,733.58 419.91,733.68 422.02,733.83 424.13,734.01 426.23,734.23 428.34,734.49 430.45,734.79 432.55,735.11 434.66,735.46 436.77,735.83 438.87,736.23 440.98,736.64 443.09,737.06 445.19,737.49 447.30,737.93 449.41,738.37 451.52,738.81 453.62,739.24 455.73,739.67 457.84,740.09 459.94,740.50 462.05,740.89 464.16,741.27 466.26,741.63 468.37,741.97 470.48,742.29 472.58,742.60 474.69,742.89 476.80,743.15 478.90,743.40 481.01,743.63 483.12,743.84 485.22,744.03 487.33,744.20 489.44,744.36 491.54,744.50 493.65,744.63 495.76,744.74 497.86,744.84 499.97,744.93 502.08,745.01 504.18,745.08 506.29,745.14 508.40,745.20 510.50,745.24 512.61,745.28 514.72,745.32 516.82,745.35 518.93,745.37 521.04,745.39 523.14,745.41 525.25,745.43 527.36,745.44 529.46,745.45 531.57,745.46 533.68,745.47 535.78,745.47 537.89,745.48 540.00,745.48 542.10,745.49 544.21,745.49 546.32,745.49 548.42,745.49 550.53,745.49 552.64,745.50 554.74,745.50 556.85,745.50 558.96,745.50 561.06,745.50 563.17,745.50 565.28,745.50 567.38,745.50 569.49,745.50 571.60,745.50 573.71,745.50 575.81,745.50 577.92,745.50 580.03,745.50 582.13,745.50 584.24,745.50 586.35,745.50 588.45,745.50 590.56,745.50 592.67,745.50 594.77,745.50 596.88,745.50 598.99,745.50 601.09,745.50 603.20,745.50 605.31,745.50 607.41,745.50 609.52,745.50 611.63,745.50 613.73,745.50 615.84,745.50 617.95,745.50 620.05,745.50 622.16,745.50 624.27,745.50 626.37,745.50 628.48,745.50 630.59,745.50 632.69,745.50 634.80,745.50" fill="none" stroke="#2a2a8a" stroke-width="1.0" stroke-linejoin="round" stroke-dasharray="3,1.5"/>
<polyline points="384.10,742.90 386.21,742.28 388.31,741.58 390.42,740.79 392.53,739.94 394.63,739.04 396.74,738.10 398.85,737.16 400.95,736.25 403.06,735.40 405.17,734.64 407.27,734.01 409.38,733.53 411.49,733.22 413.59,733.10 415.70,733.12 417.81,733.18 419.91,733.29 422.02,733.44 424.13,733.63 426.23,733.86 428.34,734.13 430.45,734.43 432.55,734.76 434.66,735.13 436.77,735.51 438.87,735.92 440.98,736.34 443.09,736.78 445.19,737.23 447.30,737.68 449.41,738.13 451.52,738.59 453.62,739.03 455.73,739.48 457.84,739.91 459.94,740.33 462.05,740.74 464.16,741.13 466.26,741.50 468.37,741.85 470.48,742.19 472.58,742.50 474.69,742.80 476.80,743.07 478.90,743.33 481.01,743.56 483.12,743.78 485.22,743.98 487.33,744.16 489.44,744.32 491.54,744.47 493.65,744.60 495.76,744.72 497.86,744.82 499.97,744.91 502.08,745.00 504.18,745.07 506.29,745.13 508.40,745.19 510.50,745.23 512.61,745.28 514.72,745.31 516.82,745.34 518.93,745.37 521.04,745.39 523.14,745.41 525.25,745.43 527.36,745.44 529.46,745.45 531.57,745.46 533.68,745.47 535.78,745.47 537.89,745.48 540.00,745.48 542.10,745.49 544.21,745.49 546.32,745.49 548.42,745.49 550.53,745.49 552.64,745.50 554.74,745.50 556.85,745.50 558.96,745.50 561.06,745.50 563.17,745.50 565.28,745.50 567.38,745.50 569.49,745.50 571.60,745.50 573.71,745.50 575.81,745.50 577.92,745.50 580.03,745.50 582.13,745.50 584.24,745.50 586.35,745.50 588.45,745.50 590.56,745.50 592.67,745.50 594.77,745.50 596.88,745.50 598.99,745.50 601.09,745.50 603.20,745.50 605.31,745.50 607.41,745.50 609.52,745.50 611.63,745.50 613.73,745.50 615.84,745.50 617.95,745.50 620.05,745.50 622.16,745.50 624.27,745.50 626.37,745.50 628.48,745.50 630.59,745.50 632.69,745.50 634.80,745.50" fill="none" stroke="#40f0ff" stroke-width="1.0" stroke-linejoin="round" />
<line x1="384.10" y1="745.20" x2="634.80" y2="745.20" stroke="#33dd33" stroke-width="1.5" />
<path d="M384.40,690.00 C385.48,681.42 388.97,652.80 390.90,638.50 C392.83,624.20 394.82,612.05 396.00,604.20 C397.18,596.35 397.18,597.15 398.00,591.40 C398.82,585.65 400.08,574.88 400.90,569.70 C401.72,564.52 402.15,562.03 402.90,560.30 C403.65,558.57 404.82,560.20 405.40,559.30 C405.98,558.40 405.92,556.70 406.40,554.90 C406.88,553.10 407.65,549.42 408.30,548.50 C408.95,547.58 409.72,548.83 410.30,549.40 C410.88,549.97 411.22,551.23 411.80,551.90 C412.38,552.57 413.30,552.65 413.80,553.40 C414.30,554.15 414.07,555.00 414.80,556.40 C415.53,557.80 417.47,560.50 418.20,561.80 C418.93,563.10 418.95,562.63 419.20,564.20 C419.45,565.77 419.12,569.55 419.70,571.20 C420.28,572.85 421.88,572.13 422.70,574.10 C423.52,576.07 423.87,581.27 424.60,583.00 C425.33,584.73 426.43,583.77 427.10,584.50 C427.77,585.23 427.87,584.60 428.60,587.40 C429.33,590.20 430.35,597.83 431.50,601.30 C432.65,604.77 434.35,606.07 435.50,608.20 C436.65,610.33 437.58,611.80 438.40,614.10 C439.22,616.40 439.40,619.70 440.40,622.00 C441.40,624.30 443.33,626.08 444.40,627.90 C445.47,629.72 445.90,630.27 446.80,632.90 C447.70,635.53 448.77,640.93 449.80,643.70 C450.83,646.47 450.77,645.25 453.00,649.50 C455.23,653.75 459.32,663.37 463.20,669.20 C467.08,675.03 471.92,680.48 476.30,684.50 C480.68,688.52 485.22,690.85 489.50,693.30 C493.78,695.75 496.85,696.65 502.00,699.20 C507.15,701.75 513.92,705.15 520.40,708.60 C526.88,712.05 534.08,716.67 540.90,719.90 C547.72,723.13 554.50,725.73 561.30,728.00 C568.10,730.27 574.88,731.97 581.70,733.50 C588.52,735.03 595.38,736.17 602.20,737.20 C609.02,738.23 617.13,739.15 622.60,739.70 C628.07,740.25 632.93,740.37 635.00,740.50" fill="none" stroke="#2b2b2b" stroke-width="0.95" stroke-linejoin="round" />
</g>
<rect x="525.30" y="544.30" width="109.50" height="155.90" fill="#fff" stroke="#333" stroke-width="1"/>
<line x1="526.80" y1="552.30" x2="550.50" y2="552.30" stroke="#111111" stroke-width="1.0" />
<text x="552.9" y="556.20" font-size="10.35">no Fe<tspan font-size="8.2" dx="0.5" dy="-4.3">3+</tspan></text>
<line x1="526.80" y1="566.40" x2="550.50" y2="566.40" stroke="#2a2a8a" stroke-width="1.0" />
<text x="552.9" y="570.30" font-size="10.35">0.11 equivs. Fe<tspan font-size="8.2" dx="0.5" dy="-4.3">3+</tspan></text>
<line x1="526.80" y1="580.50" x2="550.50" y2="580.50" stroke="#7878f5" stroke-width="1.6" />
<text x="552.9" y="584.40" font-size="10.35">0.25 equivs. Fe<tspan font-size="8.2" dx="0.5" dy="-4.3">3+</tspan></text>
<line x1="526.80" y1="594.60" x2="550.50" y2="594.60" stroke="#9a3a9a" stroke-width="1.0" />
<text x="552.9" y="598.50" font-size="10.35">0.43 equivs. Fe<tspan font-size="8.2" dx="0.5" dy="-4.3">3+</tspan></text>
<line x1="526.80" y1="608.70" x2="550.50" y2="608.70" stroke="#8a3cf0" stroke-width="1.0" />
<text x="552.9" y="612.60" font-size="10.35">0.66 equivs. Fe<tspan font-size="8.2" dx="0.5" dy="-4.3">3+</tspan></text>
<line x1="526.80" y1="622.80" x2="550.50" y2="622.80" stroke="#ff80ff" stroke-width="1.6" />
<text x="552.9" y="626.70" font-size="10.35">1.0 equiv. Fe<tspan font-size="8.2" dx="0.5" dy="-4.3">3+</tspan></text>
<line x1="526.80" y1="636.90" x2="550.50" y2="636.90" stroke="#e02890" stroke-width="1.0" />
<text x="552.9" y="640.80" font-size="10.35">1.5 equivs. Fe<tspan font-size="8.2" dx="0.5" dy="-4.3">3+</tspan></text>
<line x1="526.80" y1="651.00" x2="550.50" y2="651.00" stroke="#f02020" stroke-width="1.0" />
<text x="552.9" y="654.90" font-size="10.35">2.3 equivs. Fe<tspan font-size="8.2" dx="0.5" dy="-4.3">3+</tspan></text>
<line x1="526.80" y1="665.10" x2="550.50" y2="665.10" stroke="#ffa040" stroke-width="1.0" />
<text x="552.9" y="669.00" font-size="10.35">4.0 equivs. Fe<tspan font-size="8.2" dx="0.5" dy="-4.3">3+</tspan></text>
<line x1="526.80" y1="679.20" x2="550.50" y2="679.20" stroke="#40f0ff" stroke-width="1.0" />
<text x="552.9" y="683.10" font-size="10.35">9.0 equivs. Fe<tspan font-size="8.2" dx="0.5" dy="-4.3">3+</tspan></text>
<line x1="526.80" y1="693.30" x2="550.50" y2="693.30" stroke="#50e050" stroke-width="1.0" />
<text x="552.90" y="697.20" font-size="10.35" >no dye</text>
<line x1="384.10" y1="746.10" x2="634.80" y2="746.10" stroke="#333" stroke-width="1" />
<line x1="384.10" y1="544.30" x2="634.80" y2="544.30" stroke="#333" stroke-width="1" />
<line x1="384.10" y1="544.30" x2="384.10" y2="746.10" stroke="#333" stroke-width="1" />
<line x1="634.80" y1="544.30" x2="634.80" y2="746.10" stroke="#333" stroke-width="1" />
<line x1="405.35" y1="746.10" x2="405.35" y2="749.60" stroke="#333" stroke-width="1" />
<line x1="447.84" y1="746.10" x2="447.84" y2="749.60" stroke="#333" stroke-width="1" />
<line x1="490.33" y1="746.10" x2="490.33" y2="749.60" stroke="#333" stroke-width="1" />
<line x1="532.82" y1="746.10" x2="532.82" y2="749.60" stroke="#333" stroke-width="1" />
<line x1="575.31" y1="746.10" x2="575.31" y2="749.60" stroke="#333" stroke-width="1" />
<line x1="617.80" y1="746.10" x2="617.80" y2="749.60" stroke="#333" stroke-width="1" />
<line x1="426.59" y1="746.10" x2="426.59" y2="748.10" stroke="#333" stroke-width="1" />
<line x1="469.08" y1="746.10" x2="469.08" y2="748.10" stroke="#333" stroke-width="1" />
<line x1="511.57" y1="746.10" x2="511.57" y2="748.10" stroke="#333" stroke-width="1" />
<line x1="554.07" y1="746.10" x2="554.07" y2="748.10" stroke="#333" stroke-width="1" />
<line x1="596.56" y1="746.10" x2="596.56" y2="748.10" stroke="#333" stroke-width="1" />
<text x="405.35" y="759.40" font-size="9.5" text-anchor="middle" letter-spacing="-0.3">450</text>
<text x="447.84" y="759.40" font-size="9.5" text-anchor="middle" letter-spacing="-0.3">500</text>
<text x="490.33" y="759.40" font-size="9.5" text-anchor="middle" letter-spacing="-0.3">550</text>
<text x="532.82" y="759.40" font-size="9.5" text-anchor="middle" letter-spacing="-0.3">600</text>
<text x="575.31" y="759.40" font-size="9.5" text-anchor="middle" letter-spacing="-0.3">650</text>
<text x="617.80" y="759.40" font-size="9.5" text-anchor="middle" letter-spacing="-0.3">700</text>
<line x1="409.21" y1="544.30" x2="409.21" y2="540.80" stroke="#333" stroke-width="1" />
<text x="409.21" y="535.90" font-size="9.5" text-anchor="middle" letter-spacing="-0.3">22000</text>
<line x1="447.84" y1="544.30" x2="447.84" y2="540.80" stroke="#333" stroke-width="1" />
<text x="447.84" y="535.90" font-size="9.5" text-anchor="middle" letter-spacing="-0.3">20000</text>
<line x1="495.05" y1="544.30" x2="495.05" y2="540.80" stroke="#333" stroke-width="1" />
<text x="495.05" y="535.90" font-size="9.5" text-anchor="middle" letter-spacing="-0.3">18000</text>
<line x1="554.07" y1="544.30" x2="554.07" y2="540.80" stroke="#333" stroke-width="1" />
<text x="554.07" y="535.90" font-size="9.5" text-anchor="middle" letter-spacing="-0.3">16000</text>
<line x1="629.94" y1="544.30" x2="629.94" y2="540.80" stroke="#333" stroke-width="1" />
<text x="629.94" y="535.90" font-size="9.5" text-anchor="middle" letter-spacing="-0.3">14000</text>
<line x1="392.41" y1="544.30" x2="392.41" y2="542.30" stroke="#333" stroke-width="1" />
<line x1="427.60" y1="544.30" x2="427.60" y2="542.30" stroke="#333" stroke-width="1" />
<line x1="470.20" y1="544.30" x2="470.20" y2="542.30" stroke="#333" stroke-width="1" />
<line x1="522.82" y1="544.30" x2="522.82" y2="542.30" stroke="#333" stroke-width="1" />
<line x1="589.48" y1="544.30" x2="589.48" y2="542.30" stroke="#333" stroke-width="1" />
<line x1="380.10" y1="746.10" x2="384.10" y2="746.10" stroke="#333" stroke-width="1" />
<line x1="380.10" y1="715.05" x2="384.10" y2="715.05" stroke="#333" stroke-width="1" />
<line x1="380.10" y1="684.01" x2="384.10" y2="684.01" stroke="#333" stroke-width="1" />
<line x1="380.10" y1="652.96" x2="384.10" y2="652.96" stroke="#333" stroke-width="1" />
<line x1="380.10" y1="621.92" x2="384.10" y2="621.92" stroke="#333" stroke-width="1" />
<line x1="380.10" y1="590.87" x2="384.10" y2="590.87" stroke="#333" stroke-width="1" />
<line x1="380.10" y1="559.82" x2="384.10" y2="559.82" stroke="#333" stroke-width="1" />
<line x1="381.80" y1="730.58" x2="384.10" y2="730.58" stroke="#333" stroke-width="1" />
<line x1="381.80" y1="699.53" x2="384.10" y2="699.53" stroke="#333" stroke-width="1" />
<line x1="381.80" y1="668.48" x2="384.10" y2="668.48" stroke="#333" stroke-width="1" />
<line x1="381.80" y1="637.44" x2="384.10" y2="637.44" stroke="#333" stroke-width="1" />
<line x1="381.80" y1="606.39" x2="384.10" y2="606.39" stroke="#333" stroke-width="1" />
<line x1="381.80" y1="575.35" x2="384.10" y2="575.35" stroke="#333" stroke-width="1" />
<line x1="381.80" y1="544.30" x2="384.10" y2="544.30" stroke="#333" stroke-width="1" />
<text x="377.60" y="749.50" font-size="9.5" text-anchor="end" letter-spacing="-0.3">0</text>
<text x="377.60" y="718.45" font-size="9.5" text-anchor="end" letter-spacing="-0.3">200</text>
<text x="377.60" y="687.41" font-size="9.5" text-anchor="end" letter-spacing="-0.3">400</text>
<text x="377.60" y="656.36" font-size="9.5" text-anchor="end" letter-spacing="-0.3">600</text>
<text x="377.60" y="625.32" font-size="9.5" text-anchor="end" letter-spacing="-0.3">800</text>
<text x="377.60" y="594.27" font-size="9.5" text-anchor="end" letter-spacing="-0.3">1000</text>
<text x="377.60" y="563.22" font-size="9.5" text-anchor="end" letter-spacing="-0.3">1200</text>
<line x1="634.80" y1="746.10" x2="638.50" y2="746.10" stroke="#333" stroke-width="1" />
<line x1="634.80" y1="705.74" x2="638.50" y2="705.74" stroke="#333" stroke-width="1" />
<line x1="634.80" y1="665.38" x2="638.50" y2="665.38" stroke="#333" stroke-width="1" />
<line x1="634.80" y1="625.02" x2="638.50" y2="625.02" stroke="#333" stroke-width="1" />
<line x1="634.80" y1="584.66" x2="638.50" y2="584.66" stroke="#333" stroke-width="1" />
<line x1="634.80" y1="544.30" x2="638.50" y2="544.30" stroke="#333" stroke-width="1" />
<line x1="634.80" y1="725.92" x2="636.80" y2="725.92" stroke="#333" stroke-width="1" />
<line x1="634.80" y1="685.56" x2="636.80" y2="685.56" stroke="#333" stroke-width="1" />
<line x1="634.80" y1="645.20" x2="636.80" y2="645.20" stroke="#333" stroke-width="1" />
<line x1="634.80" y1="604.84" x2="636.80" y2="604.84" stroke="#333" stroke-width="1" />
<line x1="634.80" y1="564.48" x2="636.80" y2="564.48" stroke="#333" stroke-width="1" />
<text x="641.60" y="749.50" font-size="9.5" letter-spacing="-0.3">0</text>
<text x="641.60" y="709.14" font-size="9.5" letter-spacing="-0.3">2000</text>
<text x="641.60" y="668.78" font-size="9.5" letter-spacing="-0.3">4000</text>
<text x="641.60" y="628.42" font-size="9.5" letter-spacing="-0.3">6000</text>
<text x="641.60" y="588.06" font-size="9.5" letter-spacing="-0.3">8000</text>
<text x="641.60" y="547.70" font-size="9.5" letter-spacing="-0.3">10000</text>
<text x="459.83" y="522.30" font-size="10.5">Wavenumber </text>
<text x="524.80" y="522.30" font-size="12.07" font-family="Liberation Serif" font-style="italic">ν</text>
<path d="M526.18,514.50 q1.1,-1.4 2.2,0 t2.2,0" fill="none" stroke="#262626" stroke-width="0.75"/>
<text x="530.16" y="522.30" font-size="10.5" style="white-space:pre"> [cm<tspan font-size="6.8" dy="-4.0">-1</tspan><tspan dy="4.0">]</tspan></text>
<text x="509.20" y="776.60" font-size="10.2" text-anchor="middle" textLength="88.5" lengthAdjust="spacingAndGlyphs">Wavelength λ [nm]</text>
<text x="347.00" y="644.80" font-size="10.4" text-anchor="middle" textLength="127.5" lengthAdjust="spacingAndGlyphs" transform="rotate(-90 347.00 644.80)">Relative fluorescence [a.u.]</text>
<text x="679.50" y="645.10" font-size="10.4" text-anchor="middle" textLength="126.8" lengthAdjust="spacingAndGlyphs" transform="rotate(-90 679.50 645.10)">Relative fluorescence [a.u.]</text>
<rect x="385.50" y="545.20" width="16.90" height="24.00" fill="#fff" stroke="#333" stroke-width="1"/>
<text x="393.95" y="563.68" font-size="18" text-anchor="middle" font-weight="bold" fill="#000" >B</text>
<text x="420.20" y="555.70" font-size="10" font-weight="bold" fill="#111" >QY=0.04</text>
<line x1="47.30" y1="979.00" x2="289.80" y2="979.00" stroke="#333" stroke-width="1" />
<line x1="47.30" y1="783.50" x2="47.30" y2="979.00" stroke="#333" stroke-width="1" />
<line x1="47.30" y1="979.00" x2="47.30" y2="982.50" stroke="#333" stroke-width="1" />
<line x1="95.80" y1="979.00" x2="95.80" y2="982.50" stroke="#333" stroke-width="1" />
<line x1="144.30" y1="979.00" x2="144.30" y2="982.50" stroke="#333" stroke-width="1" />
<line x1="192.80" y1="979.00" x2="192.80" y2="982.50" stroke="#333" stroke-width="1" />
<line x1="241.30" y1="979.00" x2="241.30" y2="982.50" stroke="#333" stroke-width="1" />
<line x1="289.80" y1="979.00" x2="289.80" y2="982.50" stroke="#333" stroke-width="1" />
<line x1="71.55" y1="979.00" x2="71.55" y2="981.00" stroke="#333" stroke-width="1" />
<line x1="120.05" y1="979.00" x2="120.05" y2="981.00" stroke="#333" stroke-width="1" />
<line x1="168.55" y1="979.00" x2="168.55" y2="981.00" stroke="#333" stroke-width="1" />
<line x1="217.05" y1="979.00" x2="217.05" y2="981.00" stroke="#333" stroke-width="1" />
<line x1="265.55" y1="979.00" x2="265.55" y2="981.00" stroke="#333" stroke-width="1" />
<text x="47.30" y="991.70" font-size="9.0" text-anchor="middle" letter-spacing="-0.3">0,0</text>
<text x="95.80" y="991.70" font-size="9.0" text-anchor="middle" letter-spacing="-0.3">0,2</text>
<text x="144.30" y="991.70" font-size="9.0" text-anchor="middle" letter-spacing="-0.3">0,4</text>
<text x="192.80" y="991.70" font-size="9.0" text-anchor="middle" letter-spacing="-0.3">0,6</text>
<text x="241.30" y="991.70" font-size="9.0" text-anchor="middle" letter-spacing="-0.3">0,8</text>
<text x="289.80" y="991.70" font-size="9.0" text-anchor="middle" letter-spacing="-0.3">1,0</text>
<line x1="43.30" y1="979.00" x2="47.30" y2="979.00" stroke="#333" stroke-width="1" />
<line x1="43.30" y1="946.50" x2="47.30" y2="946.50" stroke="#333" stroke-width="1" />
<line x1="43.30" y1="914.00" x2="47.30" y2="914.00" stroke="#333" stroke-width="1" />
<line x1="43.30" y1="881.50" x2="47.30" y2="881.50" stroke="#333" stroke-width="1" />
<line x1="43.30" y1="849.00" x2="47.30" y2="849.00" stroke="#333" stroke-width="1" />
<line x1="43.30" y1="816.50" x2="47.30" y2="816.50" stroke="#333" stroke-width="1" />
<line x1="43.30" y1="784.00" x2="47.30" y2="784.00" stroke="#333" stroke-width="1" />
<line x1="45.00" y1="962.75" x2="47.30" y2="962.75" stroke="#333" stroke-width="1" />
<line x1="45.00" y1="930.25" x2="47.30" y2="930.25" stroke="#333" stroke-width="1" />
<line x1="45.00" y1="897.75" x2="47.30" y2="897.75" stroke="#333" stroke-width="1" />
<line x1="45.00" y1="865.25" x2="47.30" y2="865.25" stroke="#333" stroke-width="1" />
<line x1="45.00" y1="832.75" x2="47.30" y2="832.75" stroke="#333" stroke-width="1" />
<line x1="45.00" y1="800.25" x2="47.30" y2="800.25" stroke="#333" stroke-width="1" />
<text x="42.30" y="982.20" font-size="9.0" text-anchor="end" letter-spacing="-0.3">-0,15</text>
<text x="42.30" y="949.70" font-size="9.0" text-anchor="end" letter-spacing="-0.3">-0,10</text>
<text x="42.30" y="917.20" font-size="9.0" text-anchor="end" letter-spacing="-0.3">-0,05</text>
<text x="42.30" y="884.70" font-size="9.0" text-anchor="end" letter-spacing="-0.3">0,00</text>
<text x="42.30" y="852.20" font-size="9.0" text-anchor="end" letter-spacing="-0.3">0,05</text>
<text x="42.30" y="819.70" font-size="9.0" text-anchor="end" letter-spacing="-0.3">0,10</text>
<text x="42.30" y="787.20" font-size="9.0" text-anchor="end" letter-spacing="-0.3">0,15</text>
<path d="M71.90,936.70 C72.33,932.00 73.27,921.23 74.50,908.50 C75.73,895.77 77.70,874.22 79.30,860.30 C80.90,846.38 82.50,834.10 84.10,825.00 C85.70,815.90 86.92,810.78 88.90,805.70 C90.88,800.62 93.87,796.37 96.00,794.50 C98.13,792.63 99.13,792.90 101.70,794.50 C104.27,796.10 108.35,800.37 111.40,804.10 C114.45,807.83 116.80,812.62 120.00,816.90 C123.20,821.18 126.58,826.15 130.60,829.80 C134.62,833.45 139.82,836.13 144.10,838.80 C148.38,841.47 152.23,843.40 156.30,845.80 C160.37,848.20 164.22,850.25 168.50,853.20 C172.78,856.15 177.98,860.28 182.00,863.50 C186.02,866.72 188.85,868.75 192.60,872.50 C196.35,876.25 200.48,881.62 204.50,886.00 C208.52,890.38 212.95,895.05 216.70,898.80 C220.45,902.55 222.93,905.72 227.00,908.50 C231.07,911.28 236.28,913.63 241.10,915.50 C245.92,917.37 251.83,917.23 255.90,919.70 C259.97,922.17 263.90,928.53 265.50,930.30" fill="none" stroke="#222" stroke-width="0.9" stroke-linejoin="round" />
<rect x="69.60" y="934.40" width="4.6" height="4.6" fill="#000"/>
<rect x="93.70" y="792.20" width="4.6" height="4.6" fill="#000"/>
<rect x="117.70" y="814.60" width="4.6" height="4.6" fill="#000"/>
<rect x="141.80" y="836.50" width="4.6" height="4.6" fill="#000"/>
<rect x="166.20" y="850.90" width="4.6" height="4.6" fill="#000"/>
<rect x="190.30" y="870.20" width="4.6" height="4.6" fill="#000"/>
<rect x="214.40" y="896.50" width="4.6" height="4.6" fill="#000"/>
<rect x="238.80" y="913.20" width="4.6" height="4.6" fill="#000"/>
<rect x="263.20" y="928.00" width="4.6" height="4.6" fill="#000"/>
<text x="169.00" y="1008.60" font-size="10.2" text-anchor="middle" textLength="100.0" lengthAdjust="spacingAndGlyphs">Mole fraction <tspan font-family="Liberation Serif" font-size="11">χ</tspan>(ligand)</text>
<text x="17.80" y="881.10" font-size="10.2" text-anchor="middle" textLength="166.0" lengthAdjust="spacingAndGlyphs" transform="rotate(-90 17.80 881.10)">Relative absorption (362.5 nm) [a.u.]</text>
<rect x="50.50" y="784.40" width="16.10" height="22.90" fill="#fff" stroke="#333" stroke-width="1"/>
<text x="58.55" y="802.33" font-size="18" text-anchor="middle" font-weight="bold" fill="#000" >C</text>
<text x="324.2" y="794.7" font-size="30.5" fill="#000" stroke="#000" stroke-width="0.75" textLength="31.6" lengthAdjust="spacingAndGlyphs">Fe</text>
<text x="357.6" y="784.8" font-size="20" fill="#000" stroke="#000" stroke-width="0.35">3+</text>
<filter id="g490876" x="-50%" y="-50%" width="200%" height="200%"><feGaussianBlur stdDeviation="7.5"/></filter>
<ellipse cx="490.30" cy="876.20" rx="112.60" ry="89.80" fill="#a8dcf5" filter="url(#g490876)"/>
<ellipse cx="490.30" cy="876.20" rx="93.60" ry="70.80" fill="#00b0f0"/>
<text x="489.70" y="840.40" font-size="20" text-anchor="middle" fill="#000" >Strongly</text>
<text x="489.70" y="864.50" font-size="20" text-anchor="middle" fill="#000" >coordinating</text>
<text x="489.70" y="888.40" font-size="20" text-anchor="middle" fill="#000" >complex</text>
<text x="489.70" y="912.60" font-size="20" text-anchor="middle" fill="#000" >5:1 stochiometry</text>
</svg></body></html>
